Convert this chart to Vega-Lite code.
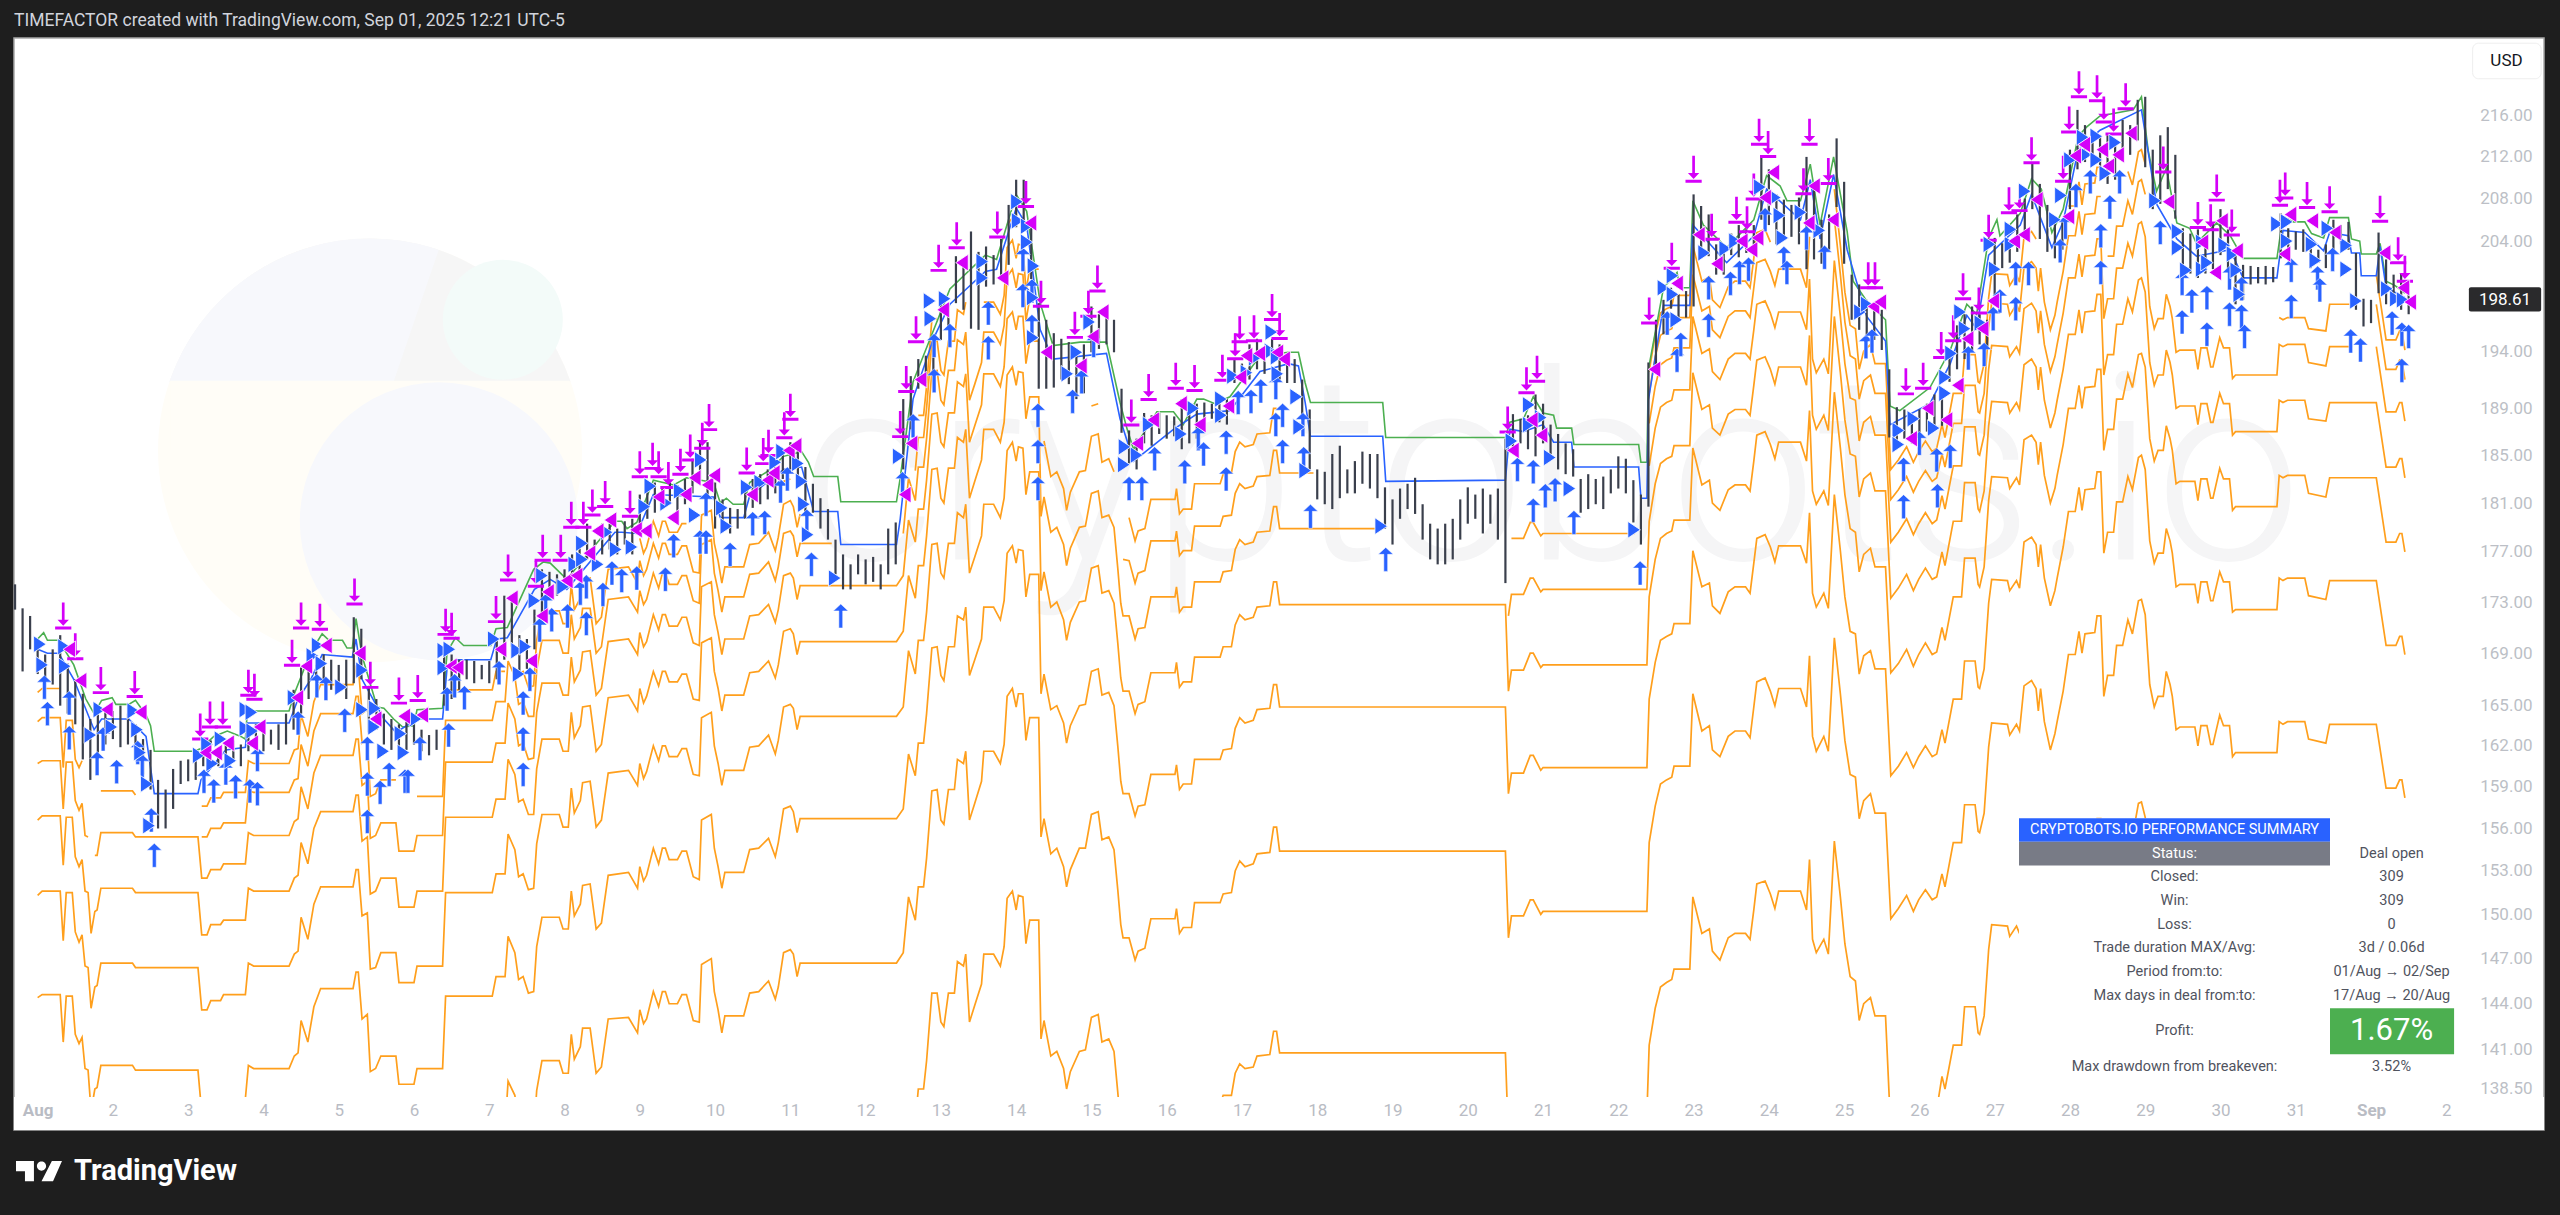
{"$schema":"https://vega.github.io/schema/vega-lite/v6.json","width":2530,"height":1092,"autosize":{"type":"none"},"padding":{"left":14,"top":38,"right":16,"bottom":85},"background":"#1e1e1e","view":{"fill":"#ffffff","stroke":"#a8a8a8","strokeWidth":1.5},"title":{"text":"TIMEFACTOR created with TradingView.com, Sep 01, 2025 12:21 UTC-5","anchor":"start","frame":"group","color":"#d1d4dc","font":"Roboto","fontSize":17.5,"fontWeight":"normal","offset":9},"config":{"font":"Roboto"},
"data":{"values":[{}]},
"datasets":{
"bars":[{"d":0.7,"l":172.4,"h":174.4},{"d":0.8,"l":167.6,"h":172.5},{"d":0.9,"l":169.3,"h":171.9},{"d":1.0,"l":167.4,"h":170.1},{"d":1.1,"l":167,"h":168.9},{"d":1.2,"l":166.6,"h":169.3},{"d":1.3,"l":165,"h":170.4},{"d":1.4,"l":164.4,"h":168.2},{"d":1.5,"l":163.6,"h":167},{"d":1.6,"l":161,"h":165.9},{"d":1.7,"l":159.5,"h":164},{"d":1.8,"l":161.5,"h":165},{"d":1.9,"l":162.1,"h":164.7},{"d":2.0,"l":162.5,"h":164.6},{"d":2.1,"l":161.9,"h":165},{"d":2.2,"l":162.1,"h":164.4},{"d":2.3,"l":161,"h":163.6},{"d":2.4,"l":159.9,"h":162.5},{"d":2.5,"l":158.8,"h":161.7},{"d":2.6,"l":156,"h":159.5},{"d":2.7,"l":156,"h":158.8},{"d":2.8,"l":157.4,"h":160.3},{"d":2.9,"l":159.2,"h":160.9},{"d":3.0,"l":159.4,"h":161},{"d":3.1,"l":159.5,"h":161.6},{"d":3.2,"l":160.5,"h":162.1},{"d":3.3,"l":160.8,"h":162.4},{"d":3.4,"l":160.5,"h":161.9},{"d":3.5,"l":160.8,"h":162.1},{"d":3.6,"l":161,"h":162.4},{"d":3.7,"l":160.5,"h":162.1},{"d":3.8,"l":161.6,"h":163.2},{"d":3.9,"l":161.7,"h":163.6},{"d":4.0,"l":161.6,"h":163.4},{"d":4.1,"l":162.1,"h":163.2},{"d":4.2,"l":161.7,"h":163.6},{"d":4.3,"l":162.1,"h":164.4},{"d":4.4,"l":163.2,"h":166.2},{"d":4.5,"l":164.4,"h":167.9},{"d":4.6,"l":165.5,"h":168.5},{"d":4.7,"l":166.2,"h":168.1},{"d":4.8,"l":167,"h":168.9},{"d":4.9,"l":166.2,"h":168.5},{"d":5.0,"l":166.2,"h":168.1},{"d":5.1,"l":165.5,"h":168.5},{"d":5.2,"l":166.7,"h":171.8},{"d":5.3,"l":167,"h":170.9},{"d":5.4,"l":163,"h":166.5},{"d":5.5,"l":163.2,"h":165.5},{"d":5.6,"l":162.1,"h":164.4},{"d":5.7,"l":161.7,"h":164},{"d":5.8,"l":161.3,"h":163.6},{"d":5.9,"l":161.7,"h":163.8},{"d":6.0,"l":162.1,"h":163.6},{"d":6.1,"l":161.6,"h":163.2},{"d":6.2,"l":161.3,"h":162.8},{"d":6.3,"l":161.7,"h":163.2},{"d":6.4,"l":165,"h":169.3},{"d":6.5,"l":165.5,"h":168.9},{"d":6.6,"l":166.2,"h":168.5},{"d":6.7,"l":167,"h":168.5},{"d":6.8,"l":166.7,"h":168.4},{"d":6.9,"l":167,"h":168.1},{"d":7.0,"l":166.7,"h":168.4},{"d":7.1,"l":167,"h":170.1},{"d":7.2,"l":168.5,"h":173.5},{"d":7.3,"l":169.5,"h":173.5},{"d":7.4,"l":167.6,"h":170.4},{"d":7.5,"l":167.8,"h":170.1},{"d":7.6,"l":169.3,"h":172.4},{"d":7.7,"l":171.9,"h":175.6},{"d":7.8,"l":173.2,"h":175.4},{"d":7.9,"l":173.5,"h":175.2},{"d":8.0,"l":174,"h":175.6},{"d":8.1,"l":174.3,"h":176.8},{"d":8.2,"l":175.2,"h":178},{"d":8.3,"l":176.4,"h":179.3},{"d":8.4,"l":176,"h":178},{"d":8.5,"l":176.8,"h":179.3},{"d":8.6,"l":177.2,"h":179.3},{"d":8.7,"l":176.8,"h":178.9},{"d":8.8,"l":177.6,"h":179.5},{"d":8.9,"l":176.8,"h":179.7},{"d":9.0,"l":179.3,"h":181.7},{"d":9.1,"l":179.7,"h":182.3},{"d":9.2,"l":180.2,"h":182.7},{"d":9.3,"l":180.5,"h":182.2},{"d":9.4,"l":180.9,"h":182.7},{"d":9.5,"l":180.2,"h":182.5},{"d":9.6,"l":180.9,"h":183},{"d":9.7,"l":181.8,"h":184.7},{"d":9.8,"l":183,"h":186.1},{"d":9.9,"l":181.4,"h":186.1},{"d":10.0,"l":178.9,"h":182.7},{"d":10.1,"l":178.9,"h":181.3},{"d":10.2,"l":178.5,"h":180.6},{"d":10.3,"l":178.9,"h":180.5},{"d":10.4,"l":179.7,"h":182.2},{"d":10.5,"l":180.6,"h":183},{"d":10.6,"l":180.9,"h":183.4},{"d":10.7,"l":181.3,"h":183.8},{"d":10.8,"l":181.8,"h":184},{"d":10.9,"l":183,"h":185.5},{"d":11.0,"l":183.8,"h":186.1},{"d":11.1,"l":183.1,"h":185.5},{"d":11.2,"l":180.2,"h":184},{"d":11.3,"l":180.2,"h":182.6},{"d":11.4,"l":178.9,"h":181.4},{"d":11.5,"l":178,"h":180.5},{"d":11.6,"l":175.2,"h":178},{"d":11.7,"l":174,"h":176.8},{"d":11.8,"l":174,"h":176},{"d":11.9,"l":175.2,"h":176.8},{"d":12.0,"l":174.4,"h":176.4},{"d":12.1,"l":174.6,"h":176.6},{"d":12.2,"l":174,"h":176},{"d":12.3,"l":175.2,"h":178.9},{"d":12.4,"l":176,"h":179.4},{"d":12.5,"l":183.8,"h":189.8},{"d":12.6,"l":187.2,"h":191.8},{"d":12.7,"l":190.7,"h":193.3},{"d":12.8,"l":191.2,"h":193.6},{"d":12.9,"l":192,"h":195.1},{"d":13.0,"l":195,"h":198.6},{"d":13.1,"l":195.9,"h":198.3},{"d":13.2,"l":198.3,"h":202.6},{"d":13.3,"l":197.7,"h":201.8},{"d":13.4,"l":196,"h":204.9},{"d":13.5,"l":195.9,"h":203},{"d":13.6,"l":199.8,"h":203.5},{"d":13.7,"l":200,"h":202.7},{"d":13.8,"l":200.5,"h":204.2},{"d":13.9,"l":201.8,"h":207.4},{"d":14.0,"l":205.3,"h":209.8},{"d":14.1,"l":205.5,"h":209.8},{"d":14.2,"l":200.5,"h":205.3},{"d":14.3,"l":190.7,"h":198.3},{"d":14.4,"l":190.7,"h":196.8},{"d":14.5,"l":190.8,"h":195.6},{"d":14.6,"l":191.5,"h":195.1},{"d":14.7,"l":191.1,"h":194.8},{"d":14.8,"l":189.8,"h":194.2},{"d":14.9,"l":190.3,"h":194.6},{"d":15.0,"l":193.9,"h":198},{"d":15.1,"l":194.2,"h":197.3},{"d":15.2,"l":194.6,"h":197.7},{"d":15.3,"l":193.9,"h":196.8},{"d":15.4,"l":186.9,"h":190.7},{"d":15.5,"l":184.3,"h":187.1},{"d":15.6,"l":183.8,"h":186.4},{"d":15.7,"l":186,"h":188.6},{"d":15.8,"l":185.8,"h":188.4},{"d":15.9,"l":186.8,"h":188.6},{"d":16.0,"l":186.4,"h":188.4},{"d":16.1,"l":186.6,"h":188.3},{"d":16.2,"l":185.5,"h":189.8},{"d":16.3,"l":186,"h":188.9},{"d":16.4,"l":186.4,"h":189.4},{"d":16.5,"l":187.8,"h":189.5},{"d":16.6,"l":188.1,"h":189.4},{"d":16.7,"l":187.8,"h":189.5},{"d":16.8,"l":187.6,"h":189.8},{"d":16.9,"l":191.2,"h":193.3},{"d":17.0,"l":191.4,"h":192.9},{"d":17.1,"l":191.5,"h":194.6},{"d":17.2,"l":192.4,"h":195.1},{"d":17.3,"l":192,"h":194.2},{"d":17.4,"l":192.9,"h":195.1},{"d":17.5,"l":191.5,"h":194.6},{"d":17.6,"l":191.2,"h":193.6},{"d":17.7,"l":191.2,"h":193.3},{"d":17.8,"l":188.1,"h":191.5},{"d":17.9,"l":183.8,"h":188.9},{"d":18.0,"l":181.3,"h":183.8},{"d":18.1,"l":180.9,"h":183.6},{"d":18.2,"l":180.5,"h":185.1},{"d":18.3,"l":181.4,"h":185.8},{"d":18.4,"l":181.8,"h":183.8},{"d":18.5,"l":181.8,"h":184.5},{"d":18.6,"l":182.6,"h":185.3},{"d":18.7,"l":182.2,"h":185.1},{"d":18.8,"l":181.4,"h":185.1},{"d":18.9,"l":178.9,"h":182.3},{"d":19.0,"l":177.6,"h":181.3},{"d":19.1,"l":179.7,"h":182.2},{"d":19.2,"l":180.5,"h":182.6},{"d":19.3,"l":180.1,"h":183.1},{"d":19.4,"l":178,"h":180.9},{"d":19.5,"l":176.4,"h":179.3},{"d":19.6,"l":176,"h":178.9},{"d":19.7,"l":176,"h":179.3},{"d":19.8,"l":176.4,"h":179.7},{"d":19.9,"l":178,"h":181.3},{"d":20.0,"l":179.3,"h":182.3},{"d":20.1,"l":179.7,"h":181.7},{"d":20.2,"l":178.5,"h":182.2},{"d":20.3,"l":179.3,"h":181.7},{"d":20.4,"l":178,"h":182.2},{"d":20.5,"l":174.5,"h":186.4},{"d":20.6,"l":185.4,"h":188.5},{"d":20.7,"l":186,"h":188.1},{"d":20.8,"l":185.5,"h":188.4},{"d":20.9,"l":184.9,"h":190.2},{"d":21.0,"l":186,"h":189.4},{"d":21.1,"l":184.7,"h":187.6},{"d":21.2,"l":183.8,"h":186.8},{"d":21.3,"l":183.4,"h":186},{"d":21.4,"l":183.2,"h":185.5},{"d":21.5,"l":180.2,"h":183},{"d":21.6,"l":180.5,"h":183.4},{"d":21.7,"l":180.9,"h":183},{"d":21.8,"l":180.5,"h":183.2},{"d":21.9,"l":181.8,"h":183.8},{"d":22.0,"l":182.2,"h":184.9},{"d":22.1,"l":181.8,"h":184.7},{"d":22.2,"l":179.4,"h":182.9},{"d":22.3,"l":177.6,"h":181.7},{"d":22.4,"l":180.7,"h":193},{"d":22.5,"l":192.4,"h":196.8},{"d":22.6,"l":195.5,"h":198.6},{"d":22.7,"l":197.8,"h":199.7},{"d":22.8,"l":196.8,"h":199.1},{"d":22.9,"l":197,"h":199.4},{"d":23.0,"l":198,"h":208.4},{"d":23.1,"l":203.2,"h":207.3},{"d":23.2,"l":202.6,"h":206.5},{"d":23.3,"l":200.9,"h":203.7},{"d":23.4,"l":200.9,"h":203.2},{"d":23.5,"l":202.7,"h":204.7},{"d":23.6,"l":202.5,"h":205.5},{"d":23.7,"l":202.9,"h":205.1},{"d":23.8,"l":202.7,"h":205.5},{"d":23.9,"l":206,"h":212},{"d":24.0,"l":205.5,"h":210.8},{"d":24.1,"l":203.7,"h":208.4},{"d":24.2,"l":204.2,"h":207.9},{"d":24.3,"l":204.4,"h":207.4},{"d":24.4,"l":203.7,"h":208.1},{"d":24.5,"l":201.4,"h":212},{"d":24.6,"l":202.3,"h":208.9},{"d":24.7,"l":201.9,"h":206},{"d":24.8,"l":203.2,"h":206.5},{"d":24.9,"l":207.2,"h":213.8},{"d":25.0,"l":201.9,"h":209.6},{"d":25.1,"l":196.8,"h":200.9},{"d":25.2,"l":195.9,"h":200},{"d":25.3,"l":195,"h":198.6},{"d":25.4,"l":195,"h":198.2},{"d":25.5,"l":194.1,"h":197.7},{"d":25.6,"l":186.5,"h":192.4},{"d":25.7,"l":186,"h":189.1},{"d":25.8,"l":186.4,"h":188.9},{"d":25.9,"l":186,"h":188.5},{"d":26.0,"l":186.4,"h":188.9},{"d":26.1,"l":187,"h":189.4},{"d":26.2,"l":187.4,"h":190.2},{"d":26.3,"l":187.5,"h":189.8},{"d":26.4,"l":191.3,"h":193.8},{"d":26.5,"l":192.4,"h":196.3},{"d":26.6,"l":193.3,"h":197.3},{"d":26.7,"l":194,"h":198},{"d":26.8,"l":194.6,"h":197.3},{"d":26.9,"l":194.1,"h":196.8},{"d":27.0,"l":198.5,"h":204.3},{"d":27.1,"l":201.5,"h":203.8},{"d":27.2,"l":202,"h":203.7},{"d":27.3,"l":203,"h":206.5},{"d":27.4,"l":204.2,"h":208},{"d":27.5,"l":207,"h":211.4},{"d":27.6,"l":204.2,"h":209.4},{"d":27.7,"l":203,"h":207.4},{"d":27.8,"l":202.4,"h":205.7},{"d":27.9,"l":203.2,"h":206},{"d":28.0,"l":207,"h":212.7},{"d":28.1,"l":210.8,"h":216.6},{"d":28.2,"l":211.5,"h":215.1},{"d":28.3,"l":211.7,"h":214.6},{"d":28.4,"l":210.8,"h":214.1},{"d":28.5,"l":209.4,"h":214.1},{"d":28.6,"l":209.8,"h":213.2},{"d":28.7,"l":211.7,"h":215.6},{"d":28.8,"l":212.2,"h":215.1},{"d":28.9,"l":213.6,"h":217.6},{"d":29.0,"l":211,"h":217.9},{"d":29.1,"l":207,"h":212.7},{"d":29.2,"l":207.5,"h":214.1},{"d":29.3,"l":208.9,"h":214.9},{"d":29.4,"l":206.1,"h":212.2},{"d":29.5,"l":200.6,"h":205.2},{"d":29.6,"l":201,"h":204.7},{"d":29.7,"l":200.6,"h":205.1},{"d":29.8,"l":201,"h":204.2},{"d":29.9,"l":201.4,"h":205.6},{"d":30.0,"l":202.7,"h":207},{"d":30.1,"l":201.4,"h":205.1},{"d":30.2,"l":198.2,"h":203.2},{"d":30.3,"l":198.6,"h":201.8},{"d":30.4,"l":200,"h":201.7},{"d":30.5,"l":200.1,"h":201.6},{"d":30.6,"l":200,"h":201.7},{"d":30.7,"l":200.2,"h":201.6},{"d":30.8,"l":202.4,"h":206.6},{"d":30.9,"l":203,"h":205.2},{"d":31.0,"l":203.2,"h":204.9},{"d":31.1,"l":203,"h":205.1},{"d":31.2,"l":201.5,"h":203.8},{"d":31.3,"l":202,"h":203.2},{"d":31.4,"l":201.5,"h":203.7},{"d":31.5,"l":203,"h":206},{"d":31.6,"l":203.7,"h":205.5},{"d":31.7,"l":203.2,"h":205.8},{"d":31.8,"l":197.7,"h":202.9},{"d":31.9,"l":196.2,"h":198.7},{"d":32.0,"l":196.5,"h":198.6},{"d":32.1,"l":199.2,"h":204.8},{"d":32.2,"l":198.2,"h":202.3},{"d":32.3,"l":198.6,"h":200.9},{"d":32.4,"l":197.7,"h":201},{"d":32.5,"l":197.3,"h":200.1}],
"orange":[{"d":1.0,"L1":166,"L2":163.8,"L3":160.7,"L4":156.6,"L5":151.3,"L6":144.4},{"d":1.06,"L1":166.3,"L2":164.1,"L3":160.9,"L4":156.9,"L5":151.6,"L6":144.6},{"d":1.3,"L1":166.3,"L2":164.1,"L3":160.9,"L4":156.9,"L5":151.6,"L6":144.6},{"d":1.34,"L2":160.4,"L3":157.4,"L4":153.4,"L5":148.2,"L6":141.5},{"d":1.38,"L2":163.9,"L3":160.8,"L4":156.8,"L5":151.5,"L6":144.5},{"d":1.46,"L2":163.9,"L3":160.8,"L4":156.8,"L5":151.5,"L6":144.5},{"d":1.5,"L2":161,"L3":158,"L4":154,"L5":148.8,"L6":142},{"d":1.55,"L2":160.4,"L3":157.3,"L4":153.3,"L5":148.1,"L6":141.4},{"d":1.59,"L2":160.9,"L3":157.8,"L4":153.8,"L5":148.6,"L6":141.8},{"d":1.63,"L3":155.5,"L4":151.6,"L5":146.5,"L6":139.8},{"d":1.67,"L3":155.4,"L4":151.5,"L5":146.4,"L6":139.7},{"d":1.71,"L4":148.7,"L5":143.7,"L6":137.1},{"d":1.76,"L3":154.1,"L4":150.2,"L5":145.1,"L6":138.5},{"d":1.79,"L3":154.1,"L4":150.3,"L5":145.2,"L6":138.6},{"d":1.84,"L2":158.7,"L3":155.7,"L4":151.8,"L5":146.7,"L6":140},{"d":2.26,"L2":158.7,"L3":155.7,"L4":151.8,"L5":146.7,"L6":140},{"d":2.3,"L2":158.4,"L3":155.4,"L4":151.5,"L5":146.4,"L6":139.7},{"d":2.5,"L3":155.4,"L4":151.5,"L5":146.4,"L6":139.7},{"d":3.13,"L3":155.4,"L4":151.5,"L5":146.4,"L6":139.7},{"d":3.18,"L1":157.6,"L2":155.4,"L3":152.5,"L4":148.6,"L5":143.6,"L6":137},{"d":3.25,"L1":157.6,"L2":155.4,"L3":152.5,"L4":148.6,"L5":143.6,"L6":137},{"d":3.3,"L1":158.2,"L2":156,"L3":153.1,"L4":149.3,"L5":144.2,"L6":137.6},{"d":3.43,"L1":158.2,"L2":156,"L3":153.1,"L4":149.3,"L5":144.2,"L6":137.6},{"d":3.47,"L1":158.6,"L2":156.4,"L3":153.5,"L4":149.6,"L5":144.6,"L6":137.9},{"d":3.76,"L1":158.6,"L2":156.4,"L3":153.5,"L4":149.6,"L5":144.6,"L6":137.9},{"d":3.8,"L1":160.9,"L2":158.7,"L3":155.7,"L4":151.8,"L5":146.7,"L6":140},{"d":3.87,"L1":160.7,"L2":158.6,"L3":155.5,"L4":151.6,"L5":146.5,"L6":139.8},{"d":4.34,"L1":160.7,"L2":158.6,"L3":155.5,"L4":151.6,"L5":146.5,"L6":139.8},{"d":4.41,"L0":163.3,"L1":161.7,"L2":159.5,"L3":156.5,"L4":152.5,"L5":147.3,"L6":140.6},{"d":4.46,"L1":161.8,"L2":159.6,"L3":156.7,"L4":152.7,"L5":147.5,"L6":140.8},{"d":4.5,"L0":166,"L1":164.3,"L2":162.1,"L3":159,"L4":155,"L5":149.8,"L6":142.9},{"d":4.59,"L1":162.7,"L2":160.5,"L3":157.4,"L4":153.5,"L5":148.3,"L6":141.5},{"d":4.67,"L1":165.3,"L2":163.1,"L3":160,"L4":156,"L5":150.7,"L6":143.8},{"d":4.76,"L1":166.6,"L2":164.4,"L3":161.3,"L4":157.2,"L5":151.9,"L6":145},{"d":5.19,"L1":166.6,"L2":164.4,"L3":161.3,"L4":157.2,"L5":151.9,"L6":145},{"d":5.23,"L1":168,"L2":165.7,"L3":162.5,"L4":158.4,"L5":153.1,"L6":146.1},{"d":5.26,"L1":168,"L2":165.7,"L3":162.5,"L4":158.4,"L5":153.1,"L6":146.1},{"d":5.31,"L1":164.4,"L2":162.2,"L3":159.1,"L4":155.1,"L5":149.9,"L6":143},{"d":5.38,"L1":164.7,"L2":162.5,"L3":159.4,"L4":155.4,"L5":150.1,"L6":143.3},{"d":5.42,"L2":158.3,"L3":155.3,"L4":151.4,"L5":146.3,"L6":139.6},{"d":5.49,"L2":158.5,"L3":155.5,"L4":151.6,"L5":146.4,"L6":139.8},{"d":5.56,"L2":159.5,"L3":156.4,"L4":152.5,"L5":147.4,"L6":140.6},{"d":5.76,"L2":159.5,"L3":156.4,"L4":152.5,"L5":147.4,"L6":140.6},{"d":5.8,"L3":154.4,"L4":150.5,"L5":145.4,"L6":138.8},{"d":6.0,"L3":154.4,"L4":150.5,"L5":145.4,"L6":138.8},{"d":6.04,"L2":158.3,"L3":155.5,"L4":151.6,"L5":146.5,"L6":139.8},{"d":6.38,"L2":158.3,"L3":155.5,"L4":151.6,"L5":146.5,"L6":139.8},{"d":6.42,"L1":166.2,"L2":163.9,"L3":160.8,"L4":156.8,"L5":151.5,"L6":144.5},{"d":7.04,"L1":166.2,"L2":163.9,"L3":160.8,"L4":156.8,"L5":151.5,"L6":144.5},{"d":7.09,"L1":167.6,"L2":165.3,"L3":162.2,"L4":158.1,"L5":152.8,"L6":145.8},{"d":7.21,"L1":167.6,"L2":165.3,"L3":162.2,"L4":158.1,"L5":152.8,"L6":145.8,"L7":136},{"d":7.25,"L2":168.4,"L3":165.2,"L4":161,"L5":155.6,"L6":148.5,"L7":139},{"d":7.34,"L2":167.2,"L3":164,"L4":159.9,"L5":154.5,"L6":147.4,"L7":138.1},{"d":7.39,"L1":167.4,"L2":165.1,"L3":162,"L4":157.9,"L5":152.6,"L6":145.6,"L7":136.4},{"d":7.45,"L1":167.6,"L2":165.3,"L3":162.2,"L4":158.1,"L5":152.8,"L6":145.8,"L7":136.5},{"d":7.52,"L1":166.4,"L2":164.2,"L3":161,"L4":157,"L5":151.7,"L6":144.7,"L7":135.5},{"d":7.59,"L1":166.5,"L2":164.2,"L3":161.1,"L4":157,"L5":151.8,"L6":144.8,"L7":135.6},{"d":7.63,"L1":170,"L2":167.7,"L3":164.5,"L4":160.3,"L5":154.9,"L6":147.8,"L7":138.4},{"d":7.7,"L1":172.3,"L2":170,"L3":166.7,"L4":162.5,"L5":157,"L6":149.8,"L7":140.3},{"d":7.93,"L1":172.3,"L2":170,"L3":166.7,"L4":162.5,"L5":157,"L6":149.8,"L7":140.3},{"d":7.98,"L1":171.3,"L2":169,"L3":165.8,"L4":161.6,"L5":156.1,"L6":149,"L7":139.5},{"d":8.05,"L1":171.3,"L2":169,"L3":165.8,"L4":161.6,"L5":156.1,"L6":149,"L7":139.5},{"d":8.09,"L1":174.4,"L2":172,"L3":168.7,"L4":164.5,"L5":158.9,"L6":151.6,"L7":142},{"d":8.13,"L1":172.4,"L2":170.1,"L3":166.8,"L4":162.6,"L5":157.1,"L6":149.9,"L7":140.4},{"d":8.21,"L1":173.3,"L2":171,"L3":167.7,"L4":163.5,"L5":158,"L6":150.7,"L7":141.2},{"d":8.24,"L1":174.8,"L2":172.5,"L3":169.1,"L4":164.9,"L5":159.3,"L6":152,"L7":142.4},{"d":8.34,"L1":174.9,"L2":172.5,"L3":169.2,"L4":165,"L5":159.4,"L6":152.1,"L7":142.4},{"d":8.42,"L1":171.3,"L2":169,"L3":165.8,"L4":161.6,"L5":156.1,"L6":149,"L7":139.5},{"d":8.49,"L1":171.8,"L2":169.5,"L3":166.3,"L4":162.1,"L5":156.6,"L6":149.4,"L7":139.9},{"d":8.58,"L1":175.6,"L2":173.2,"L3":169.9,"L4":165.6,"L5":160,"L6":152.7,"L7":143},{"d":8.85,"L1":175.8,"L2":173.4,"L3":170.1,"L4":165.8,"L5":160.2,"L6":152.9,"L7":143.1},{"d":8.97,"L1":174.5,"L2":172.2,"L3":168.9,"L4":164.6,"L5":159.1,"L6":151.8,"L7":142.1},{"d":9.0,"L0":178.1,"L1":176.3,"L2":173.9,"L3":170.6,"L4":166.3,"L5":160.7,"L6":153.3,"L7":143.6},{"d":9.05,"L0":176.9,"L1":175.1,"L2":172.8,"L3":169.5,"L4":165.2,"L5":159.6,"L6":152.3,"L7":142.7},{"d":9.09,"L0":177.4,"L1":175.6,"L2":173.2,"L3":169.9,"L4":165.7,"L5":160.1,"L6":152.7,"L7":143},{"d":9.18,"L0":179.5,"L1":177.7,"L2":175.3,"L3":172,"L4":167.6,"L5":162,"L6":154.6,"L7":144.8},{"d":9.25,"L0":178.3,"L1":176.5,"L2":174.1,"L3":170.8,"L4":166.5,"L5":160.9,"L6":153.5,"L7":143.8},{"d":9.3,"L0":179.5,"L1":177.7,"L2":175.3,"L3":172,"L4":167.6,"L5":162,"L6":154.6,"L7":144.8},{"d":9.34,"L0":179.5,"L1":177.7,"L2":175.3,"L3":172,"L4":167.6,"L5":162,"L6":154.6,"L7":144.8},{"d":9.39,"L0":178.6,"L1":176.8,"L2":174.4,"L3":171.1,"L4":166.8,"L5":161.2,"L6":153.8,"L7":144},{"d":9.5,"L0":178.6,"L1":176.8,"L2":174.4,"L3":171.1,"L4":166.8,"L5":161.2,"L6":153.8,"L7":144},{"d":9.56,"L0":179.3,"L1":177.5,"L2":175.1,"L3":171.8,"L4":167.4,"L5":161.8,"L6":154.4,"L7":144.6},{"d":9.62,"L0":179.3,"L1":177.5,"L2":175.1,"L3":171.8,"L4":167.4,"L5":161.8,"L6":154.4,"L7":144.6},{"d":9.71,"L1":175.4,"L2":173.1,"L3":169.8,"L4":165.5,"L5":159.9,"L6":152.6,"L7":142.9},{"d":9.79,"L1":175.3,"L2":172.9,"L3":169.6,"L4":165.4,"L5":159.8,"L6":152.4,"L7":142.8},{"d":9.82,"L1":180,"L2":177.6,"L3":174.2,"L4":169.8,"L5":164.1,"L6":156.6,"L7":146.6},{"d":9.95,"L1":180.4,"L2":178,"L3":174.6,"L4":170.2,"L5":164.5,"L6":157,"L7":147},{"d":9.99,"L1":177.7,"L2":175.3,"L3":172,"L4":167.6,"L5":162,"L6":154.6,"L7":144.8},{"d":10.04,"L1":176.3,"L2":173.9,"L3":170.6,"L4":166.3,"L5":160.7,"L6":153.3,"L7":143.6},{"d":10.09,"L1":174.5,"L2":172.2,"L3":168.9,"L4":164.6,"L5":159.1,"L6":151.8,"L7":142.1},{"d":10.13,"L1":175.8,"L2":173.4,"L3":170.1,"L4":165.8,"L5":160.2,"L6":152.9,"L7":143.2},{"d":10.38,"L1":175.8,"L2":173.4,"L3":170.1,"L4":165.8,"L5":160.2,"L6":152.9,"L7":143.2},{"d":10.46,"L1":177.6,"L2":175.2,"L3":171.9,"L4":167.5,"L5":161.9,"L6":154.5,"L7":144.7},{"d":10.58,"L1":177.7,"L2":175.3,"L3":172,"L4":167.6,"L5":162,"L6":154.6,"L7":144.8},{"d":10.71,"L1":178.6,"L2":176.2,"L3":172.8,"L4":168.4,"L5":162.8,"L6":155.3,"L7":145.5},{"d":10.8,"L1":177.1,"L2":174.7,"L3":171.4,"L4":167.1,"L5":161.4,"L6":154,"L7":144.3},{"d":10.84,"L1":178.2,"L2":175.8,"L3":172.4,"L4":168.1,"L5":162.4,"L6":155,"L7":145.1},{"d":10.91,"L0":182.8,"L1":180.9,"L2":178.5,"L3":175.1,"L4":170.7,"L5":164.9,"L6":157.4,"L7":147.4},{"d":11.0,"L0":183,"L1":181.2,"L2":178.7,"L3":175.3,"L4":170.9,"L5":165.1,"L6":157.6,"L7":147.6},{"d":11.04,"L1":180.7,"L2":178.3,"L3":174.9,"L4":170.5,"L5":164.8,"L6":157.2,"L7":147.3},{"d":11.09,"L1":179,"L2":176.6,"L3":173.2,"L4":168.9,"L5":163.2,"L6":155.7,"L7":145.8},{"d":11.13,"L1":180.1,"L2":177.7,"L3":174.3,"L4":169.9,"L5":164.2,"L6":156.7,"L7":146.7},{"d":11.55,"L2":177.7,"L3":174.3,"L4":169.9,"L5":164.2,"L6":156.7,"L7":146.7},{"d":12.41,"L3":174.3,"L4":169.9,"L5":164.2,"L6":156.7,"L7":146.7},{"d":12.5,"L2":178.5,"L3":175.1,"L4":170.7,"L5":164.9,"L6":157.4,"L7":147.4,"L8":134.9},{"d":12.57,"L2":183.1,"L3":179.6,"L4":175.1,"L5":169.2,"L6":161.4,"L7":151.2,"L8":137.8},{"d":12.66,"L1":183.7,"L2":181.2,"L3":177.8,"L4":173.3,"L5":167.4,"L6":159.8,"L7":149.6,"L8":136.4},{"d":12.7,"L0":188.4,"L1":186.5,"L2":184,"L3":180.5,"L4":175.9,"L5":170,"L6":162.2,"L7":151.9,"L8":138.5},{"d":12.77,"L0":188.4,"L1":186.5,"L2":184,"L3":180.5,"L4":175.9,"L5":170,"L6":162.2,"L7":151.9,"L8":138.5},{"d":12.81,"L0":190.9,"L1":189,"L2":186.4,"L3":182.9,"L4":178.3,"L5":172.2,"L6":164.4,"L7":153.9,"L8":140.3},{"d":12.88,"L0":196.8,"L1":194.8,"L2":192.2,"L3":188.5,"L4":183.8,"L5":177.6,"L6":169.4,"L7":158.7,"L8":144.7},{"d":12.95,"L0":196.9,"L1":194.9,"L2":192.3,"L3":188.6,"L4":183.9,"L5":177.7,"L6":169.5,"L7":158.8,"L8":144.7},{"d":13.0,"L1":192.3,"L2":189.7,"L3":186.1,"L4":181.4,"L5":175.3,"L6":167.3,"L7":156.6,"L8":142.8},{"d":13.04,"L1":191.9,"L2":189.3,"L3":185.7,"L4":181,"L5":174.9,"L6":166.9,"L7":156.3,"L8":142.5},{"d":13.1,"L1":194.9,"L2":192.3,"L3":188.6,"L4":183.9,"L5":177.7,"L6":169.5,"L7":158.8,"L8":144.7},{"d":13.18,"L1":194.9,"L2":192.3,"L3":188.6,"L4":183.9,"L5":177.7,"L6":169.5,"L7":158.8,"L8":144.7},{"d":13.22,"L1":197.7,"L2":195,"L3":191.3,"L4":186.5,"L5":180.2,"L6":171.9,"L7":161,"L8":146.8},{"d":13.3,"L1":197.3,"L2":194.6,"L3":190.9,"L4":186.1,"L5":179.8,"L6":171.6,"L7":160.7,"L8":146.5},{"d":13.33,"L1":198.4,"L2":195.7,"L3":192,"L4":187.2,"L5":180.9,"L6":172.6,"L7":161.6,"L8":147.3},{"d":13.38,"L2":189.7,"L3":186.1,"L4":181.4,"L5":175.3,"L6":167.3,"L7":156.6,"L8":142.8},{"d":13.45,"L2":191.1,"L3":187.5,"L4":182.8,"L5":176.6,"L6":168.5,"L7":157.8,"L8":143.9},{"d":13.54,"L2":193,"L3":189.3,"L4":184.6,"L5":178.3,"L6":170.1,"L7":159.4,"L8":145.3},{"d":13.57,"L1":198.4,"L2":195.7,"L3":192,"L4":187.2,"L5":180.9,"L6":172.6,"L7":161.6,"L8":147.3},{"d":13.7,"L1":198.4,"L2":195.7,"L3":192,"L4":187.2,"L5":180.9,"L6":172.6,"L7":161.6,"L8":147.3},{"d":13.79,"L1":197.3,"L2":194.6,"L3":190.9,"L4":186.1,"L5":179.8,"L6":171.6,"L7":160.7,"L8":146.5},{"d":13.84,"L1":199,"L2":196.3,"L3":192.6,"L4":187.8,"L5":181.4,"L6":173.1,"L7":162.1,"L8":147.8},{"d":13.88,"L0":205.5,"L1":203.4,"L2":200.7,"L3":196.9,"L4":191.9,"L5":185.4,"L6":176.9,"L7":165.7,"L8":151.1},{"d":13.95,"L0":206.2,"L1":204.1,"L2":201.4,"L3":197.5,"L4":192.6,"L5":186.1,"L6":177.5,"L7":166.3,"L8":151.6},{"d":14.0,"L1":202.4,"L2":199.7,"L3":195.9,"L4":191,"L5":184.5,"L6":176.1,"L7":164.9,"L8":150.3},{"d":14.03,"L1":203.7,"L2":201,"L3":197.1,"L4":192.2,"L5":185.7,"L6":177.2,"L7":165.9,"L8":151.3},{"d":14.09,"L1":203.6,"L2":200.9,"L3":197.1,"L4":192.1,"L5":185.6,"L6":177.1,"L7":165.9,"L8":151.2},{"d":14.13,"L1":199.4,"L2":196.7,"L3":192.9,"L4":188.1,"L5":181.7,"L6":173.4,"L7":162.4,"L8":148},{"d":14.18,"L1":201.4,"L2":198.7,"L3":194.9,"L4":190,"L5":183.6,"L6":175.2,"L7":164.1,"L8":149.6},{"d":14.3,"L1":201.4,"L2":198.7,"L3":194.9,"L4":190,"L5":183.6,"L6":175.2,"L7":164.1,"L8":149.6},{"d":14.33,"L4":179.9,"L5":173.9,"L6":165.9,"L7":155.4,"L8":141.7},{"d":14.37,"L3":186.2,"L4":181.5,"L5":175.4,"L6":167.4,"L7":156.7,"L8":142.9},{"d":14.46,"L3":183.2,"L4":178.6,"L5":172.6,"L6":164.7,"L7":154.2,"L8":140.6},{"d":14.54,"L3":183.6,"L4":179,"L5":173,"L6":165,"L7":154.6,"L8":140.9},{"d":14.63,"L3":182.2,"L4":177.6,"L5":171.6,"L6":163.7,"L7":153.3,"L8":139.8},{"d":14.67,"L3":180.4,"L4":175.9,"L5":170,"L6":162.2,"L7":151.9,"L8":138.5},{"d":14.72,"L3":181.9,"L4":177.3,"L5":171.4,"L6":163.5,"L7":153.1,"L8":139.6},{"d":14.84,"L3":183.6,"L4":179,"L5":173,"L6":165,"L7":154.6,"L8":140.9},{"d":14.92,"L3":183.7,"L4":179.1,"L5":173.1,"L6":165.1,"L7":154.6,"L8":141},{"d":15.0,"L2":189.2,"L3":186.6,"L4":181.8,"L5":175.7,"L6":167.6,"L7":157,"L8":143.1},{"d":15.09,"L2":189.4,"L3":186.8,"L4":182,"L5":175.9,"L6":167.8,"L7":157.2,"L8":143.3},{"d":15.14,"L3":184.4,"L4":179.8,"L5":173.7,"L6":165.8,"L7":155.2,"L8":141.5},{"d":15.23,"L3":184.7,"L4":180,"L5":173.9,"L6":166,"L7":155.4,"L8":141.7},{"d":15.3,"L3":183.6,"L4":179,"L5":172.9,"L6":165,"L7":154.5,"L8":140.9},{"d":15.35,"L4":175.7,"L5":169.8,"L6":162,"L7":151.7,"L8":138.3},{"d":15.39,"L4":172.9,"L5":167.1,"L6":159.4,"L7":149.3,"L8":136.1},{"d":15.42,"L3":176.4,"L4":171.9,"L5":166.1,"L6":158.5,"L7":148.4,"L8":135.5},{"d":15.5,"L2":179.8,"L3":176.3,"L4":171.9,"L5":166.1,"L6":158.5,"L7":148.4},{"d":15.58,"L2":177.9,"L3":174.5,"L4":170.1,"L5":164.4,"L6":156.9,"L7":146.9},{"d":15.62,"L2":178.7,"L3":175.3,"L4":170.9,"L5":165.1,"L6":157.6,"L7":147.5},{"d":15.71,"L2":178.9,"L3":175.5,"L4":171,"L5":165.3,"L6":157.7,"L7":147.7},{"d":15.79,"L2":181.3,"L3":177.9,"L4":173.4,"L5":167.5,"L6":159.9,"L7":149.7},{"d":16.11,"L2":181.3,"L3":177.9,"L4":173.4,"L5":167.5,"L6":159.9,"L7":149.7},{"d":16.13,"L2":182.2,"L3":178.7,"L4":174.2,"L5":168.3,"L6":160.6,"L7":150.4},{"d":16.17,"L2":180.1,"L3":176.7,"L4":172.2,"L5":166.4,"L6":158.8,"L7":148.7},{"d":16.22,"L2":180.5,"L3":177.1,"L4":172.6,"L5":166.8,"L6":159.2,"L7":149.1},{"d":16.33,"L2":180.5,"L3":177.1,"L4":172.6,"L5":166.8,"L6":159.2,"L7":149.1,"L8":136},{"d":16.37,"L2":182.6,"L3":179.1,"L4":174.6,"L5":168.7,"L6":161,"L7":150.8,"L8":137.5},{"d":16.71,"L2":182.6,"L3":179.1,"L4":174.6,"L5":168.7,"L6":161,"L7":150.8,"L8":137.5},{"d":16.75,"L2":183.4,"L3":179.9,"L4":175.4,"L5":169.5,"L6":161.7,"L7":151.4,"L8":138.1},{"d":16.86,"L2":183.5,"L3":180,"L4":175.5,"L5":169.5,"L6":161.8,"L7":151.5,"L8":138.1},{"d":16.91,"L2":185.3,"L3":181.8,"L4":177.2,"L5":171.2,"L6":163.3,"L7":153,"L8":139.5},{"d":16.97,"L2":186.1,"L3":182.6,"L4":178,"L5":172,"L6":164.1,"L7":153.7,"L8":140.1},{"d":17.04,"L2":185.7,"L3":182.2,"L4":177.6,"L5":171.6,"L6":163.7,"L7":153.3,"L8":139.8},{"d":17.15,"L2":185.9,"L3":182.4,"L4":177.8,"L5":171.8,"L6":163.9,"L7":153.5,"L8":139.9},{"d":17.2,"L2":186.8,"L3":183.2,"L4":178.6,"L5":172.6,"L6":164.7,"L7":154.2,"L8":140.6},{"d":17.37,"L2":186.9,"L3":183.3,"L4":178.7,"L5":172.7,"L6":164.8,"L7":154.3,"L8":140.7},{"d":17.42,"L2":189,"L3":185.4,"L4":180.7,"L5":174.6,"L6":166.6,"L7":156.1,"L8":142.2},{"d":17.46,"L2":189,"L3":185.4,"L4":180.7,"L5":174.6,"L6":166.6,"L7":156.1,"L8":142.2},{"d":17.5,"L3":183.5,"L4":178.9,"L5":172.8,"L6":164.9,"L7":154.4,"L8":140.8},{"d":17.95,"L3":183.5,"L4":178.9,"L5":172.8,"L6":164.9,"L7":154.4,"L8":140.8},{"d":18.8,"L4":178.9,"L5":172.8,"L6":164.9,"L7":154.4,"L8":140.8},{"d":18.9,"L5":172.8,"L6":164.9,"L7":154.4,"L8":140.8},{"d":20.5,"L5":172.8,"L6":164.9,"L7":154.4,"L8":140.8},{"d":20.54,"L4":171.9,"L5":166.1,"L6":158.5,"L7":148.4,"L8":135.3},{"d":20.58,"L3":178.1,"L4":173.6,"L5":167.7,"L6":160,"L7":149.9,"L8":136.7},{"d":20.74,"L3":178.1,"L4":173.6,"L5":167.7,"L6":160,"L7":149.9,"L8":136.7},{"d":20.83,"L3":179.4,"L4":174.9,"L5":169,"L6":161.3,"L7":151,"L8":137.7},{"d":20.87,"L3":179.4,"L4":174.9,"L5":169,"L6":161.3,"L7":151,"L8":137.7},{"d":20.97,"L3":178.3,"L4":173.8,"L5":167.9,"L6":160.2,"L7":150,"L8":136.8},{"d":21.0,"L3":178.5,"L4":174,"L5":168.1,"L6":160.4,"L7":150.2,"L8":137},{"d":22.22,"L3":178.5,"L4":174,"L5":168.1,"L6":160.4,"L7":150.2,"L8":137},{"d":22.3,"L4":174,"L5":168.1,"L6":160.4,"L7":150.2,"L8":137},{"d":22.38,"L4":174,"L5":168.1,"L6":160.4,"L7":150.2,"L8":137},{"d":22.41,"L0":192.2,"L1":190.3,"L2":187.7,"L3":184.1,"L4":179.5,"L5":173.4,"L6":165.5,"L7":155,"L8":141.3},{"d":22.49,"L0":195.5,"L1":193.5,"L2":190.9,"L3":187.3,"L4":182.6,"L5":176.4,"L6":168.3,"L7":157.6,"L8":143.7},{"d":22.56,"L0":197.4,"L1":195.4,"L2":192.8,"L3":189.1,"L4":184.3,"L5":178.1,"L6":170,"L7":159.2,"L8":145.1},{"d":22.64,"L0":197.8,"L1":195.8,"L2":193.2,"L3":189.5,"L4":184.7,"L5":178.5,"L6":170.3,"L7":159.5,"L8":145.4},{"d":22.71,"L0":198,"L1":196,"L2":193.4,"L3":189.7,"L4":184.9,"L5":178.7,"L6":170.5,"L7":159.7,"L8":145.6},{"d":22.74,"L0":199,"L1":197,"L2":194.3,"L3":190.6,"L4":185.8,"L5":179.6,"L6":171.3,"L7":160.5,"L8":146.3},{"d":22.95,"L0":199,"L1":197,"L2":194.3,"L3":190.6,"L4":185.8,"L5":179.6,"L6":171.3,"L7":160.5,"L8":146.3},{"d":22.99,"L0":205.7,"L1":203.6,"L2":200.9,"L3":197.1,"L4":192.1,"L5":185.6,"L6":177.1,"L7":165.9,"L8":151.2},{"d":23.11,"L1":200.3,"L2":197.6,"L3":193.8,"L4":188.9,"L5":182.5,"L6":174.2,"L7":163.1,"L8":148.7},{"d":23.21,"L1":200.7,"L2":198,"L3":194.2,"L4":189.3,"L5":182.9,"L6":174.5,"L7":163.5,"L8":149},{"d":23.25,"L1":198.6,"L2":195.9,"L3":192.2,"L4":187.3,"L5":181,"L6":172.7,"L7":161.7,"L8":147.5},{"d":23.35,"L1":197.9,"L2":195.2,"L3":191.5,"L4":186.7,"L5":180.4,"L6":172.1,"L7":161.2,"L8":146.9},{"d":23.46,"L1":199.8,"L2":197.1,"L3":193.3,"L4":188.5,"L5":182.1,"L6":173.8,"L7":162.7,"L8":148.4},{"d":23.55,"L1":200.3,"L2":197.6,"L3":193.8,"L4":188.9,"L5":182.5,"L6":174.2,"L7":163.1,"L8":148.7},{"d":23.69,"L1":200.3,"L2":197.6,"L3":193.8,"L4":188.9,"L5":182.5,"L6":174.2,"L7":163.1,"L8":148.7},{"d":23.75,"L1":199.7,"L2":197,"L3":193.3,"L4":188.4,"L5":182,"L6":173.7,"L7":162.6,"L8":148.3},{"d":23.8,"L1":202.4,"L2":199.7,"L3":195.9,"L4":191,"L5":184.5,"L6":176.1,"L7":164.9,"L8":150.3},{"d":23.84,"L1":204.8,"L2":202,"L3":198.2,"L4":193.2,"L5":186.7,"L6":178.1,"L7":166.8,"L8":152.1},{"d":23.95,"L1":205.1,"L2":202.3,"L3":198.5,"L4":193.5,"L5":187,"L6":178.4,"L7":167.1,"L8":152.3},{"d":24.02,"L1":203.9,"L2":201.2,"L3":197.4,"L4":192.4,"L5":185.9,"L6":177.4,"L7":166.1,"L8":151.4},{"d":24.08,"L2":199.9,"L3":196.1,"L4":191.1,"L5":184.7,"L6":176.2,"L7":165,"L8":150.4},{"d":24.13,"L2":201.4,"L3":197.5,"L4":192.6,"L5":186.1,"L6":177.5,"L7":166.3,"L8":151.6},{"d":24.42,"L2":201.4,"L3":197.5,"L4":192.6,"L5":186.1,"L6":177.5,"L7":166.3,"L8":151.6},{"d":24.5,"L2":199.7,"L3":195.9,"L4":191,"L5":184.5,"L6":176.1,"L7":164.9,"L8":150.3},{"d":24.54,"L2":204.4,"L3":200.5,"L4":195.4,"L5":188.8,"L6":180.2,"L7":168.8,"L8":153.8},{"d":24.58,"L3":193.3,"L4":188.4,"L5":182,"L6":173.7,"L7":162.7,"L8":148.3},{"d":24.63,"L3":192.1,"L4":187.2,"L5":180.9,"L6":172.6,"L7":161.6,"L8":147.4},{"d":24.73,"L3":193.3,"L4":188.4,"L5":182,"L6":173.7,"L7":162.7,"L8":148.3},{"d":24.79,"L3":192,"L4":187.1,"L5":180.8,"L6":172.5,"L7":161.6,"L8":147.3},{"d":24.87,"L1":208.9,"L2":206.1,"L3":202.2,"L4":197.1,"L5":190.4,"L6":181.7,"L7":170.2,"L8":155.1},{"d":24.95,"L1":203.6,"L2":200.9,"L3":197.1,"L4":192.1,"L5":185.6,"L6":177.1,"L7":165.9,"L8":151.2},{"d":25.01,"L1":199.3,"L2":196.6,"L3":192.9,"L4":188,"L5":181.7,"L6":173.4,"L7":162.4,"L8":148},{"d":25.08,"L1":196.3,"L2":193.6,"L3":189.9,"L4":185.1,"L5":178.9,"L6":170.7,"L7":159.9,"L8":145.8},{"d":25.15,"L1":196,"L2":193.3,"L3":189.7,"L4":184.9,"L5":178.6,"L6":170.5,"L7":159.7,"L8":145.5},{"d":25.2,"L1":192.4,"L2":189.8,"L3":186.2,"L4":181.5,"L5":175.4,"L6":167.4,"L7":156.7,"L8":142.9},{"d":25.26,"L1":194,"L2":191.4,"L3":187.8,"L4":183,"L5":176.8,"L6":168.8,"L7":158,"L8":144},{"d":25.35,"L1":194.6,"L2":191.9,"L3":188.3,"L4":183.5,"L5":177.3,"L6":169.2,"L7":158.5,"L8":144.4},{"d":25.41,"L1":192.9,"L2":190.3,"L3":186.7,"L4":182,"L5":175.8,"L6":167.8,"L7":157.1,"L8":143.2},{"d":25.55,"L1":192.9,"L2":190.3,"L3":186.7,"L4":182,"L5":175.8,"L6":167.8,"L7":157.1,"L8":143.2},{"d":25.62,"L1":183.8,"L2":181.3,"L3":177.8,"L4":173.3,"L5":167.5,"L6":159.8,"L7":149.7,"L8":135.8},{"d":25.72,"L1":184.6,"L2":182.1,"L3":178.6,"L4":174.1,"L5":168.2,"L6":160.5,"L7":150.4},{"d":25.83,"L1":185.7,"L2":183.2,"L3":179.7,"L4":175.2,"L5":169.3,"L6":161.5,"L7":151.3},{"d":25.92,"L1":184.4,"L2":181.9,"L3":178.4,"L4":173.9,"L5":168,"L6":160.4,"L7":150.2},{"d":25.99,"L1":185.3,"L2":182.8,"L3":179.3,"L4":174.8,"L5":168.9,"L6":161.2,"L7":151},{"d":26.08,"L1":186.2,"L2":183.7,"L3":180.2,"L4":175.7,"L5":169.8,"L6":162,"L7":151.7},{"d":26.17,"L1":185.3,"L2":182.8,"L3":179.3,"L4":174.8,"L5":168.9,"L6":161.2,"L7":151},{"d":26.23,"L1":185.6,"L2":183.1,"L3":179.6,"L4":175,"L5":169.1,"L6":161.4,"L7":151.2,"L8":137.2},{"d":26.3,"L1":187.6,"L2":185.1,"L3":181.6,"L4":177,"L5":171,"L6":163.2,"L7":152.8,"L8":139.3},{"d":26.34,"L1":186.5,"L2":184,"L3":180.5,"L4":175.9,"L5":170,"L6":162.2,"L7":151.9,"L8":138.5},{"d":26.45,"L1":190.3,"L2":187.7,"L3":184.1,"L4":179.5,"L5":173.4,"L6":165.5,"L7":155,"L8":141.3},{"d":26.56,"L1":190.3,"L2":187.7,"L3":184.1,"L4":179.5,"L5":173.4,"L6":165.5,"L7":155,"L8":141.3},{"d":26.6,"L1":193.7,"L2":191,"L3":187.4,"L4":182.7,"L5":176.5,"L6":168.4,"L7":157.7,"L8":143.8},{"d":26.74,"L1":193.7,"L2":191,"L3":187.4,"L4":182.7,"L5":176.5,"L6":168.4,"L7":157.7,"L8":143.8},{"d":26.78,"L1":191.3,"L2":188.7,"L3":185.1,"L4":180.5,"L5":174.4,"L6":166.4,"L7":155.8,"L8":142.1},{"d":26.8,"L1":191.2,"L2":188.6,"L3":185,"L4":180.3,"L5":174.2,"L6":166.3,"L7":155.7,"L8":142},{"d":26.86,"L1":192.9,"L2":190.3,"L3":186.7,"L4":182,"L5":175.8,"L6":167.8,"L7":157.1,"L8":143.2},{"d":26.92,"L1":198.8,"L2":196.1,"L3":192.4,"L4":187.5,"L5":181.2,"L6":172.9,"L7":161.9,"L8":147.6},{"d":26.96,"L1":201,"L2":198.3,"L3":194.5,"L4":189.6,"L5":183.2,"L6":174.8,"L7":163.7,"L8":149.3},{"d":27.17,"L1":200.9,"L2":198.2,"L3":194.4,"L4":189.5,"L5":183.1,"L6":174.7,"L7":163.6,"L8":149.2},{"d":27.2,"L1":199.9,"L2":197.2,"L3":193.5,"L4":188.6,"L5":182.2,"L6":173.9,"L7":162.8,"L8":148.5},{"d":27.29,"L1":200.9,"L2":198.2,"L3":194.4,"L4":189.5,"L5":183.1,"L6":174.7,"L7":163.6,"L8":149.2},{"d":27.33,"L1":200.2,"L2":197.5,"L3":193.8,"L4":188.9,"L5":182.5,"L6":174.1,"L7":163.1,"L8":148.7},{"d":27.39,"L1":204.4,"L2":201.6,"L3":197.8,"L4":192.8,"L5":186.3,"L6":177.8,"L7":166.5,"L8":151.8},{"d":27.49,"L1":204.9,"L2":202.1,"L3":198.3,"L4":193.3,"L5":186.7,"L6":178.2,"L7":166.9,"L8":152.1},{"d":27.55,"L1":204.2,"L2":201.5,"L3":197.6,"L4":192.6,"L5":186.1,"L6":177.6,"L7":166.3,"L8":151.6},{"d":27.58,"L2":199.4,"L3":195.6,"L4":190.6,"L5":184.2,"L6":175.8,"L7":164.6,"L8":150.1},{"d":27.61,"L2":201.5,"L3":197.6,"L4":192.6,"L5":186.1,"L6":177.6,"L7":166.3,"L8":151.6},{"d":27.66,"L2":198.4,"L3":194.6,"L4":189.7,"L5":183.3,"L6":174.9,"L7":163.8,"L8":149.3},{"d":27.74,"L2":195.9,"L3":192.2,"L4":187.3,"L5":181,"L6":172.7,"L7":161.7,"L8":147.5},{"d":27.8,"L2":197.2,"L3":193.5,"L4":188.6,"L5":182.2,"L6":173.9,"L7":162.9,"L8":148.5},{"d":27.83,"L2":198.4,"L3":194.6,"L4":189.7,"L5":183.3,"L6":174.9,"L7":163.8,"L8":149.3},{"d":27.91,"L2":201.2,"L3":197.4,"L4":192.4,"L5":185.9,"L6":177.4,"L7":166.1,"L8":151.4},{"d":27.98,"L1":207.3,"L2":204.5,"L3":200.6,"L4":195.5,"L5":189,"L6":180.3,"L7":168.9,"L8":153.9},{"d":28.07,"L1":207.3,"L2":204.5,"L3":200.6,"L4":195.5,"L5":189,"L6":180.3,"L7":168.9,"L8":153.9},{"d":28.12,"L1":209.6,"L2":206.8,"L3":202.8,"L4":197.7,"L5":191,"L6":182.3,"L7":170.7,"L8":155.6},{"d":28.16,"L1":207.4,"L2":204.6,"L3":200.7,"L4":195.6,"L5":189,"L6":180.4,"L7":169,"L8":154},{"d":28.2,"L1":209.4,"L2":206.5,"L3":202.6,"L4":197.5,"L5":190.8,"L6":182.1,"L7":170.5,"L8":155.5},{"d":28.33,"L1":209.5,"L2":206.6,"L3":202.7,"L4":197.6,"L5":190.9,"L6":182.2,"L7":170.6,"L8":155.5},{"d":28.36,"L1":211,"L2":208.2,"L3":204.2,"L4":199.1,"L5":192.4,"L6":183.6,"L7":171.9,"L8":156.7},{"d":28.41,"L1":211,"L2":208.2,"L3":204.2,"L4":199.1,"L5":192.4,"L6":183.6,"L7":171.9,"L8":156.7},{"d":28.45,"L3":196.9,"L4":191.9,"L5":185.4,"L6":176.9,"L7":165.7,"L8":151.1},{"d":28.5,"L2":202.6,"L3":198.7,"L4":193.7,"L5":187.2,"L6":178.6,"L7":167.3,"L8":152.5},{"d":28.58,"L2":202.6,"L3":198.7,"L4":193.7,"L5":187.2,"L6":178.6,"L7":167.3,"L8":152.5},{"d":28.62,"L2":205.4,"L3":201.5,"L4":196.4,"L5":189.8,"L6":181.1,"L7":169.6,"L8":154.6},{"d":28.7,"L2":205.4,"L3":201.5,"L4":196.4,"L5":189.8,"L6":181.1,"L7":169.6,"L8":154.6},{"d":28.77,"L1":210.6,"L2":207.8,"L3":203.8,"L4":198.7,"L5":192,"L6":183.2,"L7":171.6,"L8":156.4},{"d":28.83,"L1":209.3,"L2":206.5,"L3":202.6,"L4":197.5,"L5":190.8,"L6":182.1,"L7":170.5,"L8":155.4},{"d":28.91,"L1":212.5,"L2":209.6,"L3":205.6,"L4":200.4,"L5":193.7,"L6":184.8,"L7":173.1,"L8":157.8},{"d":28.95,"L1":212.7,"L2":209.8,"L3":205.8,"L4":200.6,"L5":193.8,"L6":185,"L7":173.2,"L8":157.9},{"d":29.0,"L1":211.3,"L2":208.4,"L3":204.4,"L4":199.3,"L5":192.6,"L6":183.8,"L7":172,"L8":156.8},{"d":29.06,"L3":198,"L4":193,"L5":186.4,"L6":177.9,"L7":166.6,"L8":151.9},{"d":29.12,"L3":196,"L4":191,"L5":184.5,"L6":176.1,"L7":164.9,"L8":150.3},{"d":29.17,"L3":196.9,"L4":191.9,"L5":185.4,"L6":176.9,"L7":165.7,"L8":151.1},{"d":29.24,"L3":196.9,"L4":191.9,"L5":185.4,"L6":176.9,"L7":165.7,"L8":151.1},{"d":29.28,"L2":203,"L3":199.1,"L4":194.1,"L5":187.5,"L6":178.9,"L7":167.6,"L8":152.8},{"d":29.33,"L3":198,"L4":193,"L5":186.4,"L6":177.9,"L7":166.6,"L8":151.9},{"d":29.36,"L3":196.9,"L4":191.9,"L5":185.4,"L6":176.9,"L7":165.7,"L8":151.1},{"d":29.41,"L3":193.9,"L4":189,"L5":182.6,"L6":174.2,"L7":163.2,"L8":148.7},{"d":29.46,"L3":194.1,"L4":189.2,"L5":182.8,"L6":174.4,"L7":163.4,"L8":148.9},{"d":29.66,"L3":194.1,"L4":189.2,"L5":182.8,"L6":174.4,"L7":163.4,"L8":148.9},{"d":29.7,"L3":192.4,"L4":187.6,"L5":181.2,"L6":172.9,"L7":162,"L8":147.6},{"d":29.74,"L3":194.3,"L4":189.4,"L5":183,"L6":174.6,"L7":163.5,"L8":149.1},{"d":29.82,"L3":194.3,"L4":189.4,"L5":183,"L6":174.6,"L7":163.5,"L8":149.1},{"d":29.87,"L3":192.6,"L4":187.8,"L5":181.4,"L6":173.1,"L7":162.1,"L8":147.8},{"d":29.9,"L3":192.6,"L4":187.8,"L5":181.4,"L6":173.1,"L7":162.1,"L8":147.8},{"d":29.99,"L3":195.2,"L4":190.3,"L5":183.9,"L6":175.4,"L7":164.3,"L8":149.8},{"d":30.04,"L3":194.3,"L4":189.4,"L5":183,"L6":174.6,"L7":163.5,"L8":149.1},{"d":30.12,"L3":194.3,"L4":189.4,"L5":183,"L6":174.6,"L7":163.5,"L8":149.1},{"d":30.16,"L3":191.6,"L4":186.7,"L5":180.4,"L6":172.2,"L7":161.2,"L8":147},{"d":30.2,"L3":191.9,"L4":187,"L5":180.7,"L6":172.4,"L7":161.5,"L8":147.2},{"d":30.75,"L3":191.9,"L4":187,"L5":180.7,"L6":172.4,"L7":161.5,"L8":147.2},{"d":30.78,"L2":197,"L3":194.6,"L4":189.7,"L5":183.3,"L6":174.9,"L7":163.8,"L8":149.3},{"d":30.83,"L2":196.8,"L3":194.4,"L4":189.5,"L5":183.1,"L6":174.7,"L7":163.6,"L8":149.1},{"d":30.89,"L2":197,"L3":194.6,"L4":189.7,"L5":183.3,"L6":174.9,"L7":163.8,"L8":149.3},{"d":31.12,"L2":197,"L3":194.6,"L4":189.7,"L5":183.3,"L6":174.9,"L7":163.8,"L8":149.3},{"d":31.17,"L2":196,"L3":193,"L4":188.1,"L5":181.8,"L6":173.5,"L7":162.5,"L8":148.1},{"d":31.4,"L2":195.8,"L3":192.7,"L4":187.9,"L5":181.5,"L6":173.2,"L7":162.2,"L8":147.9},{"d":31.45,"L2":198.2,"L3":194.4,"L4":189.5,"L5":183.1,"L6":174.7,"L7":163.6,"L8":149.2},{"d":31.75,"L2":198.2,"L3":194.4,"L4":189.5,"L5":183.1,"L6":174.7,"L7":163.6,"L8":149.2},{"d":31.78,"L4":189.5,"L5":183.1,"L6":174.7,"L7":163.6,"L8":149.2},{"d":32.07,"L1":200.9,"L2":198.2,"L3":194.4,"L4":189.5,"L5":183.1,"L6":174.7,"L7":163.6,"L8":149.2},{"d":32.2,"L1":195,"L2":192.4,"L3":188.7,"L4":184,"L5":177.8,"L6":169.6,"L7":158.9,"L8":144.8},{"d":32.33,"L1":195,"L2":192.4,"L3":188.7,"L4":184,"L5":177.8,"L6":169.6,"L7":158.9,"L8":144.8},{"d":32.38,"L1":195.8,"L2":193.2,"L3":189.5,"L4":184.7,"L5":178.5,"L6":170.3,"L7":159.5,"L8":145.4},{"d":32.41,"L1":195.8,"L2":193.2,"L3":189.5,"L4":184.7,"L5":178.5,"L6":170.3,"L7":159.5,"L8":145.4},{"d":32.45,"L1":194.1,"L2":191.5,"L3":187.9,"L4":183.1,"L5":177,"L6":168.9,"L7":158.2,"L8":144.2}],
"tp":[{"d":1.0,"p":170.1},{"d":1.08,"p":170.6},{"d":1.13,"p":170},{"d":1.28,"p":170},{"d":1.48,"p":168.1},{"d":1.64,"p":165.5},{"d":1.75,"p":164.4},{"d":1.85,"p":165.4},{"d":1.99,"p":165.6},{"d":2.04,"p":165.1},{"d":2.21,"p":165.1},{"d":2.3,"p":165.4},{"d":2.44,"p":164.3},{"d":2.5,"p":163.5},{"d":2.55,"p":161.6},{"d":3.08,"p":161.6},{"d":3.17,"p":161.8},{"d":3.34,"p":162.7},{"d":3.52,"p":163.1},{"d":3.7,"p":162.7},{"d":3.76,"p":162.5},{"d":3.79,"p":164.9},{"d":3.87,"p":164.6},{"d":4.34,"p":164.6},{"d":4.41,"p":165.9},{"d":4.63,"p":169.1},{"d":4.78,"p":170.5},{"d":4.87,"p":170},{"d":5.05,"p":170},{"d":5.11,"p":169.4},{"d":5.18,"p":169.4},{"d":5.23,"p":171.7},{"d":5.31,"p":168.8},{"d":5.51,"p":164.9},{"d":5.6,"p":164.8},{"d":5.73,"p":164},{"d":5.85,"p":163.4},{"d":6.0,"p":163.5},{"d":6.04,"p":164.7},{"d":6.38,"p":164.8},{"d":6.44,"p":169.1},{"d":6.55,"p":170.2},{"d":6.66,"p":169.6},{"d":7.02,"p":169.6},{"d":7.09,"p":170.9},{"d":7.24,"p":171},{"d":7.59,"p":175.6},{"d":7.72,"p":176.2},{"d":7.81,"p":176.1},{"d":8.03,"p":174.8},{"d":8.67,"p":179.5},{"d":8.76,"p":179.5},{"d":8.83,"p":178.9},{"d":8.96,"p":179.4},{"d":9.18,"p":182.9},{"d":9.45,"p":182.5},{"d":9.62,"p":183.1},{"d":9.98,"p":182.7},{"d":10.07,"p":181},{"d":10.15,"p":181.4},{"d":10.24,"p":180.9},{"d":10.38,"p":180.9},{"d":10.46,"p":182.7},{"d":10.69,"p":183.6},{"d":10.91,"p":184.9},{"d":11.15,"p":185.3},{"d":11.24,"p":184.4},{"d":11.31,"p":183.2},{"d":11.63,"p":183.2},{"d":11.67,"p":181.1},{"d":12.41,"p":181.1},{"d":12.46,"p":183.1},{"d":12.63,"p":191.3},{"d":12.72,"p":192.8},{"d":13.12,"p":199.6},{"d":13.59,"p":202.7},{"d":13.74,"p":202.3},{"d":14.0,"p":208.4},{"d":14.14,"p":206.8},{"d":14.32,"p":198.3},{"d":14.49,"p":194.5},{"d":14.85,"p":194.8},{"d":15.2,"p":194.8},{"d":15.38,"p":189.5},{"d":15.47,"p":187.3},{"d":15.56,"p":185.5},{"d":15.87,"p":188.7},{"d":16.09,"p":188.7},{"d":16.22,"p":187.6},{"d":16.4,"p":189.8},{"d":16.49,"p":189.8},{"d":16.64,"p":189.4},{"d":16.84,"p":190},{"d":17.24,"p":193.6},{"d":17.62,"p":193.9},{"d":17.75,"p":193.9},{"d":17.84,"p":191.2},{"d":17.91,"p":189.5},{"d":18.87,"p":189.5},{"d":18.91,"p":186.5},{"d":20.5,"p":186.5},{"d":20.56,"p":187.8},{"d":20.74,"p":188.1},{"d":20.87,"p":190},{"d":21.0,"p":188.6},{"d":21.14,"p":188.4},{"d":21.18,"p":187.3},{"d":21.38,"p":187.3},{"d":21.41,"p":185.9},{"d":22.27,"p":185.9},{"d":22.3,"p":184.4},{"d":22.38,"p":184.4},{"d":22.4,"p":192.4},{"d":22.6,"p":199.7},{"d":22.78,"p":201.1},{"d":22.82,"p":199.7},{"d":22.95,"p":199.7},{"d":22.99,"p":207.8},{"d":23.13,"p":205.5},{"d":23.44,"p":203.4},{"d":23.8,"p":206},{"d":23.97,"p":210.2},{"d":24.15,"p":209.2},{"d":24.24,"p":207.8},{"d":24.42,"p":207.8},{"d":24.55,"p":211.3},{"d":24.68,"p":205.5},{"d":24.86,"p":212},{"d":25.04,"p":204.9},{"d":25.12,"p":200.3},{"d":25.3,"p":198.5},{"d":25.55,"p":196.8},{"d":25.61,"p":189.2},{"d":25.74,"p":188.8},{"d":26.14,"p":190.8},{"d":26.41,"p":194.1},{"d":26.63,"p":198.2},{"d":26.76,"p":197.3},{"d":26.92,"p":204.3},{"d":27.03,"p":206},{"d":27.07,"p":204.5},{"d":27.34,"p":206.6},{"d":27.49,"p":209.9},{"d":27.62,"p":208.9},{"d":27.76,"p":204.8},{"d":27.91,"p":207},{"d":28.11,"p":214},{"d":28.22,"p":214.9},{"d":28.4,"p":216},{"d":28.84,"p":216.6},{"d":28.95,"p":217.9},{"d":29.04,"p":212.6},{"d":29.15,"p":208.7},{"d":29.28,"p":210.9},{"d":29.42,"p":205.7},{"d":29.59,"p":205.2},{"d":29.68,"p":203.8},{"d":29.95,"p":205.7},{"d":30.13,"p":204.5},{"d":30.3,"p":202.4},{"d":30.75,"p":202.4},{"d":30.83,"p":206.3},{"d":30.97,"p":205.8},{"d":31.12,"p":205.8},{"d":31.21,"p":204.7},{"d":31.37,"p":204.3},{"d":31.45,"p":206.2},{"d":31.7,"p":206.2},{"d":31.74,"p":204.2},{"d":31.85,"p":204},{"d":31.87,"p":202.8},{"d":32.07,"p":202.8},{"d":32.12,"p":203.8},{"d":32.2,"p":200.3},{"d":32.32,"p":199.9},{"d":32.45,"p":199.2}],
"avg":[{"d":1.0,"p":169.3},{"d":1.13,"p":169},{"d":1.28,"p":169},{"d":1.48,"p":167},{"d":1.75,"p":163.2},{"d":1.85,"p":164},{"d":2.21,"p":164},{"d":2.44,"p":162.7},{"d":2.55,"p":158.5},{"d":3.13,"p":158.5},{"d":3.17,"p":159.5},{"d":3.5,"p":161.7},{"d":3.76,"p":161.9},{"d":3.79,"p":163.7},{"d":4.34,"p":163.7},{"d":4.46,"p":165.5},{"d":4.63,"p":167},{"d":4.78,"p":168.9},{"d":5.18,"p":168.7},{"d":5.23,"p":170.1},{"d":5.31,"p":167},{"d":5.6,"p":164},{"d":5.76,"p":163},{"d":6.04,"p":164},{"d":6.38,"p":164},{"d":6.44,"p":167.9},{"d":6.55,"p":168.5},{"d":7.02,"p":168.5},{"d":7.1,"p":170.1},{"d":7.24,"p":170.2},{"d":7.6,"p":174},{"d":7.81,"p":174.8},{"d":8.03,"p":174},{"d":8.67,"p":178.6},{"d":8.76,"p":178.6},{"d":8.96,"p":178.5},{"d":9.18,"p":181.7},{"d":9.98,"p":181.5},{"d":10.07,"p":179.8},{"d":10.38,"p":179.8},{"d":10.46,"p":181.6},{"d":10.91,"p":183.8},{"d":11.15,"p":184},{"d":11.31,"p":180.3},{"d":11.63,"p":180.3},{"d":11.67,"p":177.6},{"d":12.41,"p":177.6},{"d":12.46,"p":179.7},{"d":12.63,"p":189.8},{"d":12.9,"p":195.1},{"d":13.12,"p":198.2},{"d":13.59,"p":201.2},{"d":13.74,"p":201.4},{"d":14.0,"p":207.1},{"d":14.14,"p":205.5},{"d":14.32,"p":195.9},{"d":14.49,"p":193.3},{"d":15.2,"p":193.8},{"d":15.38,"p":188.1},{"d":15.56,"p":184.5},{"d":16.09,"p":187.2},{"d":16.4,"p":188.5},{"d":16.84,"p":188.8},{"d":17.24,"p":192.2},{"d":17.62,"p":192.9},{"d":17.75,"p":192.7},{"d":17.84,"p":189.5},{"d":17.91,"p":186.6},{"d":18.87,"p":186.6},{"d":18.91,"p":182.8},{"d":20.5,"p":182.9},{"d":20.56,"p":187.2},{"d":20.74,"p":187},{"d":21.0,"p":187.6},{"d":21.14,"p":186.1},{"d":21.38,"p":186.1},{"d":21.41,"p":184},{"d":22.27,"p":184},{"d":22.3,"p":181.4},{"d":22.38,"p":181.4},{"d":22.4,"p":189.7},{"d":22.6,"p":198.1},{"d":22.95,"p":198.1},{"d":22.99,"p":205.5},{"d":23.44,"p":202},{"d":23.8,"p":204.5},{"d":23.97,"p":208.9},{"d":24.42,"p":206},{"d":24.55,"p":209.8},{"d":24.68,"p":204.2},{"d":24.86,"p":210.3},{"d":25.04,"p":203.2},{"d":25.3,"p":197.1},{"d":25.55,"p":194.9},{"d":25.61,"p":187.6},{"d":26.14,"p":189.4},{"d":26.41,"p":192.9},{"d":26.63,"p":197.2},{"d":26.76,"p":196},{"d":26.92,"p":202.7},{"d":27.34,"p":205.5},{"d":27.49,"p":208.4},{"d":27.76,"p":203.4},{"d":27.91,"p":205.8},{"d":28.11,"p":212.7},{"d":28.4,"p":214.6},{"d":28.95,"p":216.6},{"d":29.15,"p":207.5},{"d":29.42,"p":204.2},{"d":29.68,"p":202.6},{"d":30.13,"p":203.2},{"d":30.3,"p":200.6},{"d":30.75,"p":200.6},{"d":30.83,"p":205},{"d":31.12,"p":204.8},{"d":31.37,"p":203.1},{"d":31.45,"p":204.8},{"d":31.7,"p":204.5},{"d":31.74,"p":202.9},{"d":31.85,"p":202.9},{"d":31.87,"p":200.8},{"d":32.07,"p":200.8},{"d":32.12,"p":203.5},{"d":32.2,"p":199.7},{"d":32.45,"p":198.8}],
"dn":[{"d":1.34,"p":171.9},{"d":1.5,"p":169.5},{"d":1.84,"p":166.9},{"d":2.29,"p":166.6},{"d":3.16,"p":163.4},{"d":3.29,"p":164.3},{"d":3.46,"p":164.3},{"d":3.8,"p":166.7},{"d":3.88,"p":166.4},{"d":4.38,"p":169},{"d":4.5,"p":171.9},{"d":4.75,"p":171.8},{"d":5.21,"p":173.8},{"d":5.42,"p":167.3},{"d":5.8,"p":166.1},{"d":6.05,"p":166.3},{"d":6.42,"p":171.4},{"d":6.5,"p":171.1},{"d":7.09,"p":172.4},{"d":7.25,"p":175.7},{"d":7.71,"p":177.3},{"d":7.62,"p":175.2},{"d":7.95,"p":177.3},{"d":8.09,"p":180},{"d":8.25,"p":180},{"d":8.37,"p":181},{"d":8.54,"p":181.7},{"d":8.87,"p":180.9},{"d":9.0,"p":184.2},{"d":9.17,"p":184.9},{"d":9.25,"p":184.2},{"d":9.38,"p":183.3},{"d":9.54,"p":184.4},{"d":9.67,"p":185.6},{"d":9.83,"p":186.6},{"d":9.92,"p":188.2},{"d":10.42,"p":184.5},{"d":10.64,"p":185.3},{"d":10.71,"p":186},{"d":10.92,"p":187.5},{"d":11.0,"p":189.1},{"d":12.46,"p":187.6},{"d":12.54,"p":191.5},{"d":12.67,"p":195.9},{"d":12.97,"p":202.4},{"d":13.21,"p":204.5},{"d":13.75,"p":205.5},{"d":14.13,"p":208.4},{"d":14.33,"p":199.1},{"d":14.78,"p":196.3},{"d":14.96,"p":198.2},{"d":15.08,"p":200.5},{"d":15.53,"p":188.6},{"d":15.76,"p":190.8},{"d":16.12,"p":191.8},{"d":16.37,"p":191.6},{"d":16.74,"p":192.5},{"d":16.91,"p":194.4},{"d":16.97,"p":195.9},{"d":17.16,"p":196},{"d":17.4,"p":197.9},{"d":17.5,"p":196.2},{"d":20.53,"p":188},{"d":20.78,"p":191.4},{"d":20.92,"p":192.4},{"d":22.41,"p":197.6},{"d":22.71,"p":202.6},{"d":23.0,"p":210.8},{"d":23.24,"p":205.3},{"d":23.57,"p":206.9},{"d":23.71,"p":206},{"d":23.8,"p":209.1},{"d":23.87,"p":214.4},{"d":23.99,"p":213.2},{"d":24.54,"p":214.4},{"d":24.46,"p":209.6},{"d":24.79,"p":210.6},{"d":25.32,"p":200.8},{"d":25.41,"p":200.8},{"d":25.82,"p":191.3},{"d":26.05,"p":191.8},{"d":26.29,"p":194.5},{"d":26.45,"p":196},{"d":26.58,"p":199.8},{"d":26.79,"p":198.5},{"d":26.92,"p":205.2},{"d":27.19,"p":207.8},{"d":27.33,"p":208},{"d":27.49,"p":212.6},{"d":27.91,"p":210.8},{"d":27.99,"p":215.6},{"d":28.12,"p":219.1},{"d":28.36,"p":218.7},{"d":28.45,"p":216.6},{"d":28.58,"p":215.4},{"d":28.74,"p":217.9},{"d":29.24,"p":211.7},{"d":29.7,"p":206.4},{"d":29.87,"p":206.2},{"d":29.95,"p":209},{"d":30.15,"p":205.7},{"d":30.79,"p":208.5},{"d":30.86,"p":209.2},{"d":31.15,"p":208.3},{"d":31.45,"p":207.9},{"d":32.12,"p":207},{"d":32.36,"p":203.1},{"d":32.45,"p":201.4}],
"up":[{"d":1.09,"p":166.4},{"d":1.13,"p":164.4},{"d":1.42,"p":165.2},{"d":1.42,"p":162.6},{"d":1.79,"p":160.7},{"d":1.87,"p":162.5},{"d":2.05,"p":160.1},{"d":2.33,"p":161.5},{"d":2.39,"p":160.5},{"d":2.51,"p":156.6},{"d":2.55,"p":154.1},{"d":3.21,"p":159.4},{"d":3.34,"p":158.7},{"d":3.5,"p":160},{"d":3.63,"p":159},{"d":3.82,"p":158.7},{"d":3.92,"p":158.5},{"d":3.92,"p":161},{"d":4.46,"p":163.7},{"d":4.71,"p":166.5},{"d":4.83,"p":166.3},{"d":5.08,"p":163.9},{"d":5.38,"p":161.8},{"d":5.38,"p":159.2},{"d":5.38,"p":156.5},{"d":5.55,"p":158.6},{"d":5.67,"p":159.9},{"d":5.88,"p":159.4},{"d":5.92,"p":159.4},{"d":6.08,"p":161.8},{"d":6.44,"p":165.5},{"d":6.54,"p":166.5},{"d":6.67,"p":165.6},{"d":6.46,"p":162.8},{"d":7.13,"p":167.5},{"d":7.45,"p":165.2},{"d":7.45,"p":162.5},{"d":7.45,"p":159.9},{"d":7.54,"p":167},{"d":7.67,"p":170.8},{"d":7.75,"p":172.7},{"d":7.83,"p":171.6},{"d":8.04,"p":171.9},{"d":8.21,"p":173.7},{"d":8.29,"p":171.3},{"d":8.29,"p":174.2},{"d":8.51,"p":173.6},{"d":8.63,"p":175.3},{"d":8.76,"p":174.7},{"d":8.96,"p":174.9},{"d":9.34,"p":174.8},{"d":9.45,"p":177.5},{"d":9.8,"p":177.8},{"d":9.88,"p":177.8},{"d":9.88,"p":180.9},{"d":10.2,"p":176.8},{"d":10.5,"p":179.3},{"d":10.66,"p":179.4},{"d":10.87,"p":182},{"d":10.96,"p":183},{"d":11.22,"p":179.5},{"d":11.28,"p":176},{"d":11.67,"p":171.9},{"d":12.49,"p":182.6},{"d":12.63,"p":187.5},{"d":12.91,"p":191.4},{"d":12.91,"p":194.5},{"d":13.12,"p":195.4},{"d":13.63,"p":194.3},{"d":13.63,"p":197.4},{"d":14.09,"p":202.3},{"d":14.09,"p":199},{"d":14.21,"p":199.4},{"d":14.21,"p":196.2},{"d":14.29,"p":188.4},{"d":14.29,"p":185.3},{"d":14.29,"p":182.2},{"d":14.75,"p":189.6},{"d":14.87,"p":191.3},{"d":15.03,"p":194.5},{"d":15.5,"p":182.2},{"d":15.67,"p":182.2},{"d":15.84,"p":184.7},{"d":16.24,"p":183.6},{"d":16.42,"p":186.4},{"d":16.49,"p":185.1},{"d":16.79,"p":186.1},{"d":16.79,"p":183},{"d":16.95,"p":189.5},{"d":17.12,"p":189.6},{"d":17.25,"p":190.5},{"d":17.45,"p":190.8},{"d":17.45,"p":187.6},{"d":17.54,"p":188.4},{"d":17.54,"p":185.3},{"d":17.81,"p":187.6},{"d":17.82,"p":184.7},{"d":17.91,"p":179.9},{"d":18.91,"p":176.4},{"d":20.66,"p":183.8},{"d":20.87,"p":183.6},{"d":20.87,"p":180.4},{"d":21.03,"p":181.6},{"d":21.16,"p":182.1},{"d":21.41,"p":179.4},{"d":22.29,"p":175.3},{"d":22.65,"p":196.5},{"d":22.78,"p":193.2},{"d":22.83,"p":194.6},{"d":23.2,"p":199.7},{"d":23.2,"p":196.3},{"d":23.49,"p":200.1},{"d":23.61,"p":201.1},{"d":23.73,"p":201.4},{"d":23.95,"p":206},{"d":24.2,"p":202.4},{"d":24.24,"p":201.1},{"d":24.5,"p":204.3},{"d":24.74,"p":202.5},{"d":25.29,"p":194.4},{"d":25.37,"p":194.9},{"d":25.79,"p":183.8},{"d":25.79,"p":180.7},{"d":26.0,"p":186},{"d":26.23,"p":184.6},{"d":26.41,"p":184.9},{"d":26.24,"p":181.6},{"d":26.65,"p":193.4},{"d":26.86,"p":193.7},{"d":26.98,"p":196.9},{"d":27.07,"p":198.5},{"d":27.28,"p":201},{"d":27.28,"p":197.8},{"d":27.45,"p":201},{"d":27.87,"p":203.1},{"d":27.94,"p":205.3},{"d":28.08,"p":208.3},{"d":28.27,"p":209.6},{"d":28.41,"p":204.5},{"d":28.41,"p":201.1},{"d":28.53,"p":207.2},{"d":28.66,"p":209.6},{"d":29.2,"p":204.8},{"d":29.49,"p":200.1},{"d":29.49,"p":196.6},{"d":29.62,"p":198.5},{"d":29.82,"p":198.8},{"d":29.82,"p":195.5},{"d":30.12,"p":197.3},{"d":30.12,"p":200.6},{"d":30.28,"p":199.6},{"d":30.28,"p":197.1},{"d":30.32,"p":195.3},{"d":30.94,"p":201.3},{"d":30.94,"p":198},{"d":31.29,"p":200.6},{"d":31.32,"p":199.5},{"d":31.49,"p":202.3},{"d":31.73,"p":194.9},{"d":31.86,"p":194.1},{"d":32.28,"p":196.5},{"d":32.41,"p":195.5},{"d":32.5,"p":195.3},{"d":32.41,"p":192.3}],
"rt":[{"d":1.03,"p":169.7},{"d":1.06,"p":168.1},{"d":1.35,"p":169.5},{"d":1.36,"p":168},{"d":1.7,"p":162.8},{"d":1.82,"p":164.7},{"d":1.98,"p":163.4},{"d":2.27,"p":164.6},{"d":2.32,"p":163.2},{"d":2.36,"p":161.5},{"d":2.45,"p":159.2},{"d":2.48,"p":156.2},{"d":3.14,"p":161.3},{"d":3.25,"p":162.1},{"d":3.32,"p":160.7},{"d":3.43,"p":162.5},{"d":3.56,"p":160.9},{"d":3.76,"p":164.7},{"d":3.84,"p":164.5},{"d":3.76,"p":163.3},{"d":3.85,"p":163.1},{"d":4.4,"p":165.6},{"d":4.65,"p":168.8},{"d":4.72,"p":169.6},{"d":4.77,"p":168.2},{"d":5.03,"p":166.4},{"d":5.31,"p":167.7},{"d":5.31,"p":164.7},{"d":5.48,"p":164.8},{"d":5.47,"p":163.4},{"d":5.59,"p":161.6},{"d":5.82,"p":162.9},{"d":5.86,"p":161.5},{"d":6.02,"p":164},{"d":6.39,"p":169.2},{"d":6.47,"p":169.3},{"d":6.39,"p":167.9},{"d":7.06,"p":170.1},{"d":7.39,"p":167.4},{"d":7.37,"p":169.2},{"d":7.48,"p":169.5},{"d":7.6,"p":173.1},{"d":7.7,"p":175.1},{"d":7.98,"p":174.2},{"d":8.13,"p":176},{"d":8.23,"p":177.7},{"d":8.23,"p":176.4},{"d":8.44,"p":176},{"d":8.56,"p":178.6},{"d":8.68,"p":177.2},{"d":8.89,"p":177.4},{"d":9.06,"p":180.7},{"d":9.14,"p":182.4},{"d":9.35,"p":181},{"d":9.53,"p":182},{"d":9.73,"p":180},{"d":9.81,"p":184.6},{"d":10.09,"p":180.6},{"d":10.15,"p":179.1},{"d":10.42,"p":182.3},{"d":10.6,"p":182.7},{"d":10.8,"p":184.4},{"d":10.89,"p":185.3},{"d":11.1,"p":184.3},{"d":11.15,"p":182.8},{"d":11.18,"p":180.9},{"d":11.23,"p":178.4},{"d":11.59,"p":174.9},{"d":12.44,"p":184.9},{"d":12.85,"p":198.5},{"d":12.86,"p":196.9},{"d":13.05,"p":198.7},{"d":13.55,"p":202.1},{"d":13.55,"p":200.6},{"d":14.01,"p":207.7},{"d":14.02,"p":205.9},{"d":14.14,"p":205.4},{"d":14.14,"p":203.9},{"d":14.23,"p":201.7},{"d":14.22,"p":198.8},{"d":14.22,"p":195.2},{"d":14.8,"p":193.9},{"d":14.97,"p":196.6},{"d":14.68,"p":192},{"d":15.44,"p":185.7},{"d":15.43,"p":184.2},{"d":15.6,"p":185},{"d":15.76,"p":187.6},{"d":16.19,"p":186.8},{"d":16.35,"p":189},{"d":16.72,"p":189.8},{"d":16.72,"p":188.4},{"d":16.88,"p":191.8},{"d":17.06,"p":192.1},{"d":17.17,"p":193.4},{"d":17.39,"p":195.7},{"d":17.38,"p":194},{"d":17.46,"p":193.5},{"d":17.47,"p":192},{"d":17.72,"p":190},{"d":17.76,"p":187.4},{"d":17.84,"p":183.7},{"d":18.85,"p":179.1},{"d":20.58,"p":186.2},{"d":20.81,"p":189.3},{"d":20.81,"p":187.6},{"d":20.97,"p":188.2},{"d":21.09,"p":184.8},{"d":21.35,"p":182.2},{"d":22.21,"p":178.8},{"d":22.6,"p":199.7},{"d":22.72,"p":200.8},{"d":22.72,"p":199.1},{"d":22.77,"p":196.8},{"d":23.14,"p":202.9},{"d":23.42,"p":203.3},{"d":23.55,"p":204},{"d":23.88,"p":209.1},{"d":24.08,"p":208.1},{"d":24.14,"p":206.4},{"d":24.18,"p":204.3},{"d":24.42,"p":206.7},{"d":24.67,"p":205},{"d":25.21,"p":197.5},{"d":25.3,"p":198.2},{"d":25.72,"p":187.1},{"d":25.72,"p":185.9},{"d":25.92,"p":188.1},{"d":26.19,"p":187.3},{"d":26.34,"p":191.7},{"d":26.34,"p":190.3},{"d":26.42,"p":193.8},{"d":26.54,"p":197.5},{"d":26.6,"p":196},{"d":26.81,"p":196.5},{"d":26.93,"p":203.7},{"d":27.0,"p":201.4},{"d":27.21,"p":203.7},{"d":27.21,"p":205.1},{"d":27.4,"p":208.7},{"d":27.8,"p":206},{"d":27.88,"p":208.3},{"d":28.0,"p":211.7},{"d":28.17,"p":213.9},{"d":28.21,"p":212.2},{"d":28.35,"p":214},{"d":28.35,"p":211.7},{"d":28.47,"p":210.4},{"d":28.6,"p":213.4},{"d":29.13,"p":207.8},{"d":29.43,"p":204.9},{"d":29.43,"p":203.4},{"d":29.54,"p":201.3},{"d":29.75,"p":203.9},{"d":29.75,"p":201.4},{"d":29.82,"p":202},{"d":30.05,"p":203.6},{"d":30.16,"p":202.8},{"d":30.21,"p":201.3},{"d":30.25,"p":199.1},{"d":30.75,"p":205.6},{"d":30.88,"p":205.8},{"d":30.88,"p":204},{"d":31.21,"p":203.7},{"d":31.26,"p":202.2},{"d":31.42,"p":205.2},{"d":31.67,"p":203.6},{"d":31.67,"p":201.4},{"d":31.8,"p":198.5},{"d":32.21,"p":199.6},{"d":32.33,"p":198.7},{"d":32.42,"p":198.6}],
"lt":[{"d":1.42,"p":169.3},{"d":1.57,"p":166.9},{"d":1.92,"p":164.7},{"d":2.37,"p":164.5},{"d":3.23,"p":161.5},{"d":3.37,"p":161.5},{"d":3.53,"p":162.2},{"d":3.95,"p":163.4},{"d":3.85,"p":162.2},{"d":4.45,"p":165.6},{"d":4.57,"p":168},{"d":4.83,"p":169.6},{"d":5.28,"p":169},{"d":5.49,"p":164},{"d":5.87,"p":164.2},{"d":6.11,"p":164.3},{"d":6.49,"p":168},{"d":6.58,"p":167.9},{"d":7.15,"p":169.3},{"d":7.3,"p":173.3},{"d":7.56,"p":168.4},{"d":7.78,"p":173.8},{"d":7.7,"p":171.9},{"d":8.03,"p":174.7},{"d":8.16,"p":175.1},{"d":8.33,"p":176.9},{"d":8.44,"p":178.7},{"d":8.61,"p":179.6},{"d":8.95,"p":178.8},{"d":9.08,"p":178.7},{"d":9.25,"p":181.5},{"d":9.44,"p":179.8},{"d":9.61,"p":181.7},{"d":9.73,"p":183.1},{"d":9.9,"p":182.5},{"d":9.99,"p":183.3},{"d":10.49,"p":181.7},{"d":10.7,"p":182.9},{"d":10.78,"p":183.5},{"d":10.98,"p":185.4},{"d":11.07,"p":185.8},{"d":12.52,"p":181.7},{"d":12.61,"p":186},{"d":12.73,"p":191.5},{"d":13.03,"p":197.7},{"d":13.28,"p":202},{"d":13.82,"p":200.6},{"d":14.19,"p":205.7},{"d":14.4,"p":193.9},{"d":14.86,"p":192.7},{"d":15.02,"p":195.3},{"d":15.15,"p":197.5},{"d":15.61,"p":186},{"d":15.82,"p":188},{"d":16.19,"p":189.4},{"d":16.44,"p":187.6},{"d":16.82,"p":189.2},{"d":16.98,"p":191.7},{"d":17.06,"p":193.6},{"d":17.23,"p":193.8},{"d":17.47,"p":193.9},{"d":17.56,"p":193.3},{"d":20.6,"p":185.4},{"d":20.85,"p":188},{"d":20.98,"p":186.7},{"d":22.48,"p":192.4},{"d":22.78,"p":200.1},{"d":23.07,"p":204.6},{"d":23.31,"p":201.9},{"d":23.64,"p":204},{"d":23.77,"p":203.2},{"d":23.85,"p":204.3},{"d":23.95,"p":208.1},{"d":24.06,"p":210.5},{"d":24.53,"p":205.7},{"d":24.6,"p":209.2},{"d":24.85,"p":206},{"d":25.39,"p":198},{"d":25.48,"p":198.4},{"d":25.89,"p":186.4},{"d":26.11,"p":189},{"d":26.36,"p":188},{"d":26.51,"p":191},{"d":26.64,"p":195.1},{"d":26.84,"p":196},{"d":26.98,"p":198.5},{"d":27.26,"p":204},{"d":27.39,"p":204.6},{"d":27.56,"p":207.9},{"d":27.98,"p":206.3},{"d":28.07,"p":212.1},{"d":28.19,"p":213.2},{"d":28.43,"p":212.7},{"d":28.51,"p":211.1},{"d":28.64,"p":212.2},{"d":28.81,"p":214.3},{"d":29.31,"p":207.7},{"d":29.76,"p":203.9},{"d":29.93,"p":201.1},{"d":30.02,"p":205.9},{"d":30.22,"p":203.1},{"d":30.85,"p":202.8},{"d":30.93,"p":206.5},{"d":31.22,"p":205.9},{"d":31.52,"p":204.8},{"d":32.18,"p":202.9},{"d":32.43,"p":199.7},{"d":32.52,"p":198.4}],
"cells":[{"cell":"back","c0":0,"c1":1.399,"r0":-0.5,"r1":10.8},{"cell":"head","c0":0,"c1":1,"r0":-0.5,"r1":0.5},{"cell":"status","c0":0,"c1":1,"r0":0.5,"r1":1.5},{"cell":"profit","c0":1,"c1":1.399,"r0":7.53,"r1":9.47}],
"texts":[{"c":0.5,"r":0,"s":"w","t":"CRYPTOBOTS.IO PERFORMANCE SUMMARY"},{"c":0.5,"r":1,"s":"w","t":"Status:"},{"c":1.198,"r":1,"s":"d","t":"Deal open"},{"c":0.5,"r":2,"s":"d","t":"Closed:"},{"c":1.198,"r":2,"s":"d","t":"309"},{"c":0.5,"r":3,"s":"d","t":"Win:"},{"c":1.198,"r":3,"s":"d","t":"309"},{"c":0.5,"r":4,"s":"d","t":"Loss:"},{"c":1.198,"r":4,"s":"d","t":"0"},{"c":0.5,"r":5,"s":"d","t":"Trade duration MAX/Avg:"},{"c":1.198,"r":5,"s":"d","t":"3d / 0.06d"},{"c":0.5,"r":6,"s":"d","t":"Period from:to:"},{"c":1.198,"r":6,"s":"d","t":"01/Aug → 02/Sep"},{"c":0.5,"r":7,"s":"d","t":"Max days in deal from:to:"},{"c":1.198,"r":7,"s":"d","t":"17/Aug → 20/Aug"},{"c":0.5,"r":8.5,"s":"d","t":"Profit:"},{"c":0.5,"r":10,"s":"d","t":"Max drawdown from breakeven:"},{"c":1.198,"r":10,"s":"d","t":"3.52%"}]
},
"layer":[
{"mark":{"type":"arc","radius":212,"theta":0,"theta2":6.2832,"fill":"#fffdf7"},"encoding":{"x":{"datum":5.416,"scale":{"domain":[0.686,34.298],"nice":false,"zero":false},"axis":null},"y":{"datum":185.4,"scale":{"type":"log","domain":[135.93,223.83],"nice":false},"axis":null}}},
{"mark":{"type":"arc","radius":212,"theta":-1.24,"theta2":1.24,"fill":"#f6f6f6"},"encoding":{"x":{"datum":5.416,"scale":{"domain":[0.686,34.298],"nice":false,"zero":false},"axis":null},"y":{"datum":185.4,"scale":{"type":"log","domain":[135.93,223.83],"nice":false},"axis":null}}},
{"mark":{"type":"arc","radius":212,"theta":-1.24,"theta2":0.33,"fill":"#f7f8fc"},"encoding":{"x":{"datum":5.416,"scale":{"domain":[0.686,34.298],"nice":false,"zero":false},"axis":null},"y":{"datum":185.4,"scale":{"type":"log","domain":[135.93,223.83],"nice":false},"axis":null}}},
{"mark":{"type":"rect","color":"#fffdf7"},"encoding":{"x":{"datum":2.76,"scale":{"domain":[0.686,34.298],"nice":false,"zero":false},"axis":null},"x2":{"datum":8.07},"y":{"datum":191.4,"scale":{"type":"log","domain":[135.93,223.83],"nice":false},"axis":null},"y2":{"datum":185.4}}},
{"mark":{"type":"arc","radius":60,"theta":0,"theta2":6.2832,"fill":"#f3fbf9"},"encoding":{"x":{"datum":7.18,"scale":{"domain":[0.686,34.298],"nice":false,"zero":false},"axis":null},"y":{"datum":196.8,"scale":{"type":"log","domain":[135.93,223.83],"nice":false},"axis":null}}},
{"mark":{"type":"arc","radius":139,"theta":0,"theta2":6.2832,"fill":"#f7f8fc"},"encoding":{"x":{"datum":6.33,"scale":{"domain":[0.686,34.298],"nice":false,"zero":false},"axis":null},"y":{"datum":179.5,"scale":{"type":"log","domain":[135.93,223.83],"nice":false},"axis":null}}},
{"mark":{"type":"text","text":"cryptobots.io","font":"Roboto","fontWeight":300,"fontSize":262,"align":"left","baseline":"alphabetic","color":"#f5f5f6"},"encoding":{"x":{"datum":11.13,"scale":{"domain":[0.686,34.298],"nice":false,"zero":false},"axis":null},"y":{"datum":176.4,"scale":{"type":"log","domain":[135.93,223.83],"nice":false},"axis":null}}},
{"data":{"name":"orange"},"transform":[{"fold":["L0","L1","L2","L3","L4","L5","L6","L7","L8"],"as":["level","p"]}],"mark":{"type":"line","color":"#ff9f1c","strokeWidth":1.7,"clip":true,"interpolate":"linear"},"encoding":{"x":{"field":"d","type":"quantitative","scale":{"domain":[0.686,34.298],"nice":false,"zero":false},"axis":{"title":null,"orient":"bottom","values":[1,2,3,4,5,6,7,8,9,10,11,12,13,14,15,16,17,18,19,20,21,22,23,24,25,26,27,28,29,30,31,32,33],"labelExpr":"datum.value==1?'Aug':datum.value==32?'Sep':datum.value==33?'2':''+datum.value","labelColor":"#b9bcc4","labelFont":"Roboto","labelFontSize":17,"labelFontWeight":{"condition":{"test":"datum.value==1||datum.value==32","value":"bold"},"value":"normal"},"labelPadding":-28,"labelOverlap":false,"labelFlush":false,"ticks":false,"domain":false,"grid":false,"zindex":2}},"y":{"field":"p","type":"quantitative","scale":{"type":"log","domain":[135.93,223.83],"nice":false},"axis":{"title":null,"orient":"right","values":[216,212,208,204,194,189,185,181,177,173,169,165,162,159,156,153,150,147,144,141,138.5],"format":".2f","labelColor":"#bcbfc6","labelFont":"Roboto","labelFontSize":17,"labelAlign":"right","labelPadding":-12,"labelOverlap":false,"labelFlush":false,"ticks":false,"domain":false,"grid":false,"zindex":2}},"detail":{"field":"level"}}},
{"data":{"name":"tp"},"mark":{"type":"line","color":"#4caf50","strokeWidth":1.6},"encoding":{"x":{"field":"d","type":"quantitative","scale":{"domain":[0.686,34.298],"nice":false,"zero":false},"axis":null},"y":{"field":"p","type":"quantitative","scale":{"type":"log","domain":[135.93,223.83],"nice":false},"axis":null}}},
{"data":{"name":"avg"},"mark":{"type":"line","color":"#2962ff","strokeWidth":1.6},"encoding":{"x":{"field":"d","type":"quantitative","scale":{"domain":[0.686,34.298],"nice":false,"zero":false},"axis":null},"y":{"field":"p","type":"quantitative","scale":{"type":"log","domain":[135.93,223.83],"nice":false},"axis":null}}},
{"data":{"name":"bars"},"mark":{"type":"rule","color":"#3a3f4c","strokeWidth":2.2},"encoding":{"x":{"field":"d","type":"quantitative","scale":{"domain":[0.686,34.298],"nice":false,"zero":false},"axis":null},"y":{"field":"l","type":"quantitative","scale":{"type":"log","domain":[135.93,223.83],"nice":false},"axis":null},"y2":{"field":"h"}}},
{"data":{"name":"up"},"mark":{"type":"point","filled":true,"opacity":1,"color":"#2962ff","stroke":"#ffffff","strokeWidth":0.5,"size":576,"shape":"M0,-1L.62,-.42L.16,-.42L.16,1L-.16,1L-.16,-.42L-.62,-.42Z"},"encoding":{"x":{"field":"d","type":"quantitative","scale":{"domain":[0.686,34.298],"nice":false,"zero":false},"axis":null},"y":{"field":"p","type":"quantitative","scale":{"type":"log","domain":[135.93,223.83],"nice":false},"axis":null}}},
{"data":{"name":"dn"},"mark":{"type":"point","filled":true,"opacity":1,"color":"#d500f9","strokeWidth":0,"size":729,"shape":"M-.1,-1L.1,-1L.1,.28L.42,.28L0,.72L-.42,.28L-.1,.28ZM-.6,.78L.6,.78L.6,1L-.6,1Z"},"encoding":{"x":{"field":"d","type":"quantitative","scale":{"domain":[0.686,34.298],"nice":false,"zero":false},"axis":null},"y":{"field":"p","type":"quantitative","scale":{"type":"log","domain":[135.93,223.83],"nice":false},"axis":null}}},
{"data":{"name":"rt"},"mark":{"type":"point","filled":true,"opacity":1,"color":"#2962ff","stroke":"#ffffff","strokeWidth":0.8,"size":280,"shape":"M-.75,-1L.75,0L-.75,1Z"},"encoding":{"x":{"field":"d","type":"quantitative","scale":{"domain":[0.686,34.298],"nice":false,"zero":false},"axis":null},"y":{"field":"p","type":"quantitative","scale":{"type":"log","domain":[135.93,223.83],"nice":false},"axis":null}}},
{"data":{"name":"lt"},"mark":{"type":"point","filled":true,"opacity":1,"color":"#d500f9","stroke":"#ffffff","strokeWidth":0.8,"size":280,"shape":"M.75,-1L-.75,0L.75,1Z"},"encoding":{"x":{"field":"d","type":"quantitative","scale":{"domain":[0.686,34.298],"nice":false,"zero":false},"axis":null},"y":{"field":"p","type":"quantitative","scale":{"type":"log","domain":[135.93,223.83],"nice":false},"axis":null}}},
{"mark":{"type":"rect","color":"#ffffff"},"encoding":{"y":{"datum":138.0,"scale":{"type":"log","domain":[135.93,223.83],"nice":false},"axis":null},"y2":{"datum":135.93}}},
{"mark":{"type":"rect","color":"#2a2a2c","cornerRadius":2},"encoding":{"x":{"datum":33.3,"scale":{"domain":[0.686,34.298],"nice":false,"zero":false},"axis":null},"x2":{"datum":34.26},"y":{"datum":199.75,"scale":{"type":"log","domain":[135.93,223.83],"nice":false},"axis":null},"y2":{"datum":197.55}}},
{"mark":{"type":"text","text":"198.61","color":"#ffffff","font":"Roboto","fontSize":17,"align":"center","baseline":"middle"},"encoding":{"x":{"datum":33.78,"scale":{"domain":[0.686,34.298],"nice":false,"zero":false},"axis":null},"y":{"datum":198.61,"scale":{"type":"log","domain":[135.93,223.83],"nice":false},"axis":null}}},
{"mark":{"type":"rect","fill":"#ffffff","stroke":"#eeeeee","strokeWidth":1,"cornerRadius":6},"encoding":{"x":{"datum":33.35,"scale":{"domain":[0.686,34.298],"nice":false,"zero":false},"axis":null},"x2":{"datum":34.26},"y":{"datum":223.3,"scale":{"type":"log","domain":[135.93,223.83],"nice":false},"axis":null},"y2":{"datum":219.7}}},
{"mark":{"type":"text","text":"USD","color":"#131722","font":"Roboto","fontSize":17,"align":"center","baseline":"middle"},"encoding":{"x":{"datum":33.8,"scale":{"domain":[0.686,34.298],"nice":false,"zero":false},"axis":null},"y":{"datum":221.5,"scale":{"type":"log","domain":[135.93,223.83],"nice":false},"axis":null}}},
{"mark":{"type":"text","text":"TradingView","color":"#ffffff","font":"Roboto","fontWeight":"bold","fontSize":29,"align":"left","baseline":"middle"},"encoding":{"x":{"datum":1.483,"scale":{"domain":[0.686,34.298],"nice":false,"zero":false},"axis":null},"y":{"datum":133.4,"scale":{"type":"log","domain":[135.93,223.83],"nice":false},"axis":null}}},
{"mark":{"type":"point","filled":true,"opacity":1,"color":"#ffffff","strokeWidth":0,"size":2116,"shape":"M-1,-.44H-.22V.44H-.61V0H-1ZM-.09,-.22A.2,.2 0 1,0 .31,-.22A.2,.2 0 1,0 -.09,-.22ZM.56,-.44H1L.61,.44H.11Z"},"encoding":{"x":{"datum":1.018,"scale":{"domain":[0.686,34.298],"nice":false,"zero":false},"axis":null},"y":{"datum":133.4,"scale":{"type":"log","domain":[135.93,223.83],"nice":false},"axis":null}}},
{"data":{"name":"cells"},"mark":{"type":"rect"},"encoding":{"x":{"field":"c0","type":"quantitative","scale":{"domain":[0,1],"range":[2005,2316],"nice":false,"zero":false},"axis":null},"x2":{"field":"c1"},"y":{"field":"r0","type":"quantitative","scale":{"domain":[0,10],"range":[792,1028.7],"nice":false,"zero":false},"axis":null},"y2":{"field":"r1"},"color":{"field":"cell","type":"nominal","legend":null,"scale":{"domain":["back","head","status","profit"],"range":["#ffffff","#2962ff","#787b86","#4caf50"]}}}},
{"data":{"name":"texts"},"mark":{"type":"text","font":"Roboto","fontSize":14.5,"align":"center","baseline":"middle"},"encoding":{"x":{"field":"c","type":"quantitative","scale":{"domain":[0,1],"range":[2005,2316],"nice":false,"zero":false},"axis":null},"y":{"field":"r","type":"quantitative","scale":{"domain":[0,10],"range":[792,1028.7],"nice":false,"zero":false},"axis":null},"text":{"field":"t"},"fill":{"field":"s","type":"nominal","legend":null,"scale":{"domain":["w","d"],"range":["#ffffff","#50535e"]}}}},
{"mark":{"type":"text","text":"1.67%","color":"#ffffff","font":"Roboto","fontSize":31,"align":"center","baseline":"middle"},"encoding":{"x":{"datum":1.198,"scale":{"domain":[0,1],"range":[2005,2316],"nice":false,"zero":false},"axis":null},"y":{"datum":8.5,"scale":{"domain":[0,10],"range":[792,1028.7],"nice":false,"zero":false},"axis":null}}}
],
"resolve":{"scale":{"x":"independent","y":"independent"}}}
